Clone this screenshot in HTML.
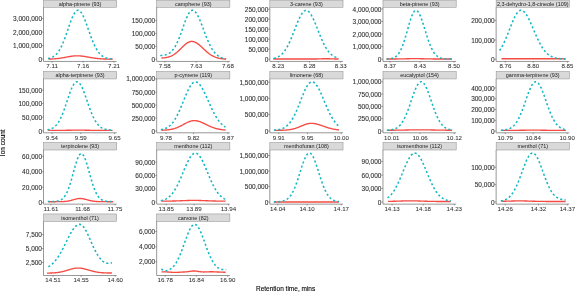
<!DOCTYPE html>
<html><head><meta charset="utf-8"><title>Ion count vs retention time</title>
<style>
html,body{margin:0;padding:0;background:#fff;}
svg{display:block;}
text{font-family:"Liberation Sans",Arial,sans-serif;}
.tk{font-size:6.15px;fill:#333;stroke:#333;stroke-width:0.06px;}
.ty{font-size:6.5px;fill:#303030;stroke:#303030;stroke-width:0.1px;}
.st{font-size:5.45px;fill:#1a1a1a;}
.ti{font-size:6.5px;fill:#000;stroke:#000;stroke-width:0.1px;}
</style></head><body>
<svg width="575" height="292" viewBox="0 0 575 292">
<rect width="575" height="292" fill="#fff"/>
<g>
<rect x="43.50" y="0.10" width="73.20" height="7.15" fill="#d9d9d9" stroke="#8a8a8a" stroke-width="0.5"/>
<text class="st" x="80.10" y="5.55" text-anchor="middle">alpha-pinene (93)</text>
<path d="M43.50,7.25 V61.45 H116.70" fill="none" stroke="#606060" stroke-width="0.65"/>
<path d="M42.00,18.60 H43.50 M42.00,32.10 H43.50 M42.00,45.60 H43.50 M42.00,59.10 H43.50 M52.10,61.45 v1.3 M83.10,61.45 v1.3 M114.00,61.45 v1.3 " fill="none" stroke="#555" stroke-width="0.55"/>
<text class="ty" x="42.00" y="21.20" text-anchor="end">3,000,000</text>
<text class="ty" x="42.00" y="34.70" text-anchor="end">2,000,000</text>
<text class="ty" x="42.00" y="48.20" text-anchor="end">1,000,000</text>
<text class="ty" x="42.00" y="61.70" text-anchor="end">0</text>
<text class="tk" x="52.10" y="68.15" text-anchor="middle">7.11</text>
<text class="tk" x="83.10" y="68.15" text-anchor="middle">7.16</text>
<text class="tk" x="114.00" y="68.15" text-anchor="middle">7.21</text>
<path d="M48.60,59.06 L49.13,59.05 L49.67,59.04 L50.20,59.02 L50.74,59.00 L51.27,58.98 L51.81,58.96 L52.34,58.94 L52.88,58.91 L53.41,58.88 L53.95,58.85 L54.48,58.82 L55.02,58.78 L55.55,58.74 L56.09,58.69 L56.62,58.64 L57.16,58.59 L57.70,58.53 L58.23,58.48 L58.77,58.41 L59.30,58.34 L59.84,58.27 L60.37,58.20 L60.91,58.12 L61.44,58.04 L61.98,57.95 L62.51,57.86 L63.05,57.77 L63.58,57.67 L64.11,57.57 L64.65,57.47 L65.19,57.37 L65.72,57.27 L66.25,57.17 L66.79,57.06 L67.33,56.96 L67.86,56.86 L68.39,56.76 L68.93,56.66 L69.47,56.56 L70.00,56.47 L70.53,56.38 L71.07,56.29 L71.60,56.21 L72.14,56.14 L72.67,56.07 L73.21,56.01 L73.75,55.96 L74.28,55.91 L74.81,55.87 L75.35,55.84 L75.88,55.82 L76.42,55.80 L76.95,55.80 L77.49,55.80 L78.03,55.81 L78.56,55.83 L79.09,55.86 L79.63,55.89 L80.16,55.93 L80.70,55.97 L81.23,56.02 L81.77,56.08 L82.31,56.14 L82.84,56.21 L83.38,56.29 L83.91,56.36 L84.44,56.44 L84.98,56.53 L85.51,56.62 L86.05,56.71 L86.58,56.80 L87.12,56.89 L87.66,56.99 L88.19,57.08 L88.72,57.18 L89.26,57.27 L89.79,57.37 L90.33,57.46 L90.86,57.55 L91.40,57.64 L91.94,57.73 L92.47,57.82 L93.00,57.90 L93.54,57.99 L94.07,58.07 L94.61,58.14 L95.14,58.22 L95.68,58.29 L96.22,58.35 L96.75,58.42 L97.28,58.48 L97.82,58.53 L98.35,58.59 L98.89,58.64 L99.42,58.69 L99.96,58.73 L100.49,58.77 L101.03,58.81 L101.56,58.85 L102.10,58.88 L102.63,58.91 L103.17,58.94 L103.70,58.97 L104.24,58.99 L104.77,59.01 L105.31,59.03 L105.84,59.05 L106.38,59.07 L106.91,59.08 L107.45,59.09 L107.98,59.11 L108.52,59.12 L109.05,59.13 L109.59,59.14 L110.12,59.14 L110.66,59.15 L111.19,59.16 L111.73,59.16 L112.26,59.17 L112.80,59.17" fill="none" stroke="#f64a43" stroke-width="1.35" stroke-linejoin="round"/>
<path d="M48.00,58.51 L48.54,58.41 L49.08,58.29 L49.62,58.16 L50.15,58.01 L50.69,57.84 L51.23,57.65 L51.77,57.43 L52.31,57.18 L52.84,56.91 L53.38,56.60 L53.92,56.26 L54.46,55.88 L55.00,55.45 L55.54,54.99 L56.08,54.48 L56.61,53.92 L57.15,53.31 L57.69,52.64 L58.23,51.92 L58.77,51.14 L59.30,50.31 L59.84,49.41 L60.38,48.45 L60.92,47.42 L61.46,46.34 L62.00,45.20 L62.53,43.99 L63.07,42.73 L63.61,41.41 L64.15,40.04 L64.69,38.63 L65.23,37.17 L65.77,35.67 L66.30,34.15 L66.84,32.59 L67.38,31.03 L67.92,29.45 L68.46,27.87 L69.00,26.31 L69.53,24.76 L70.07,23.24 L70.61,21.76 L71.15,20.33 L71.69,18.96 L72.22,17.66 L72.76,16.44 L73.30,15.30 L73.84,14.27 L74.38,13.34 L74.92,12.52 L75.45,11.82 L75.99,11.25 L76.53,10.81 L77.07,10.51 L77.61,10.34 L78.15,10.30 L78.69,10.41 L79.22,10.64 L79.76,11.00 L80.30,11.48 L80.84,12.09 L81.38,12.81 L81.91,13.64 L82.45,14.58 L82.99,15.62 L83.53,16.74 L84.07,17.95 L84.61,19.23 L85.14,20.57 L85.68,21.97 L86.22,23.41 L86.76,24.89 L87.30,26.39 L87.84,27.92 L88.38,29.45 L88.91,30.98 L89.45,32.50 L89.99,34.01 L90.53,35.50 L91.07,36.96 L91.60,38.38 L92.14,39.77 L92.68,41.11 L93.22,42.40 L93.76,43.64 L94.30,44.83 L94.84,45.97 L95.37,47.04 L95.91,48.06 L96.45,49.02 L96.99,49.92 L97.53,50.76 L98.06,51.55 L98.60,52.28 L99.14,52.96 L99.68,53.58 L100.22,54.16 L100.76,54.68 L101.29,55.17 L101.83,55.61 L102.37,56.01 L102.91,56.37 L103.45,56.70 L103.99,56.99 L104.52,57.26 L105.06,57.49 L105.60,57.70 L106.14,57.89 L106.68,58.06 L107.22,58.20 L107.75,58.33 L108.29,58.44 L108.83,58.54 L109.37,58.63 L109.91,58.71 L110.45,58.77 L110.98,58.83 L111.52,58.88 L112.06,58.92 L112.60,58.96" fill="none" stroke="#12b7c2" stroke-width="1.55" stroke-dasharray="2.1 2.35" stroke-linejoin="round"/>
</g>
<g>
<rect x="156.66" y="0.10" width="73.20" height="7.15" fill="#d9d9d9" stroke="#8a8a8a" stroke-width="0.5"/>
<text class="st" x="193.26" y="5.55" text-anchor="middle">camphene (93)</text>
<path d="M156.66,7.25 V61.45 H229.86" fill="none" stroke="#606060" stroke-width="0.65"/>
<path d="M155.16,20.40 H156.66 M155.16,33.40 H156.66 M155.16,46.40 H156.66 M155.16,59.30 H156.66 M164.80,61.45 v1.3 M196.20,61.45 v1.3 M227.90,61.45 v1.3 " fill="none" stroke="#555" stroke-width="0.55"/>
<text class="ty" x="155.16" y="23.00" text-anchor="end">150,000</text>
<text class="ty" x="155.16" y="36.00" text-anchor="end">100,000</text>
<text class="ty" x="155.16" y="49.00" text-anchor="end">50,000</text>
<text class="ty" x="155.16" y="61.90" text-anchor="end">0</text>
<text class="tk" x="164.80" y="68.15" text-anchor="middle">7.58</text>
<text class="tk" x="196.20" y="68.15" text-anchor="middle">7.63</text>
<text class="tk" x="227.90" y="68.15" text-anchor="middle">7.68</text>
<path d="M161.40,58.06 L161.94,58.03 L162.48,57.99 L163.02,57.95 L163.56,57.90 L164.10,57.84 L164.63,57.78 L165.17,57.70 L165.71,57.62 L166.25,57.52 L166.79,57.42 L167.33,57.30 L167.87,57.17 L168.41,57.02 L168.95,56.86 L169.49,56.69 L170.03,56.49 L170.57,56.28 L171.11,56.05 L171.64,55.80 L172.18,55.53 L172.72,55.25 L173.26,54.94 L173.80,54.61 L174.34,54.26 L174.88,53.88 L175.42,53.49 L175.96,53.08 L176.50,52.65 L177.04,52.20 L177.57,51.73 L178.11,51.25 L178.65,50.75 L179.19,50.24 L179.73,49.72 L180.27,49.20 L180.81,48.66 L181.35,48.12 L181.89,47.59 L182.43,47.05 L182.97,46.52 L183.51,46.00 L184.05,45.50 L184.58,45.00 L185.12,44.53 L185.66,44.08 L186.20,43.66 L186.74,43.26 L187.28,42.90 L187.82,42.57 L188.36,42.27 L188.90,42.02 L189.44,41.81 L189.98,41.64 L190.51,41.51 L191.05,41.43 L191.59,41.40 L192.13,41.41 L192.67,41.47 L193.21,41.56 L193.75,41.69 L194.29,41.85 L194.83,42.06 L195.37,42.30 L195.91,42.57 L196.45,42.88 L196.99,43.22 L197.52,43.58 L198.06,43.97 L198.60,44.38 L199.14,44.82 L199.68,45.27 L200.22,45.74 L200.76,46.22 L201.30,46.72 L201.84,47.22 L202.38,47.72 L202.92,48.23 L203.45,48.75 L203.99,49.25 L204.53,49.76 L205.07,50.26 L205.61,50.75 L206.15,51.24 L206.69,51.71 L207.23,52.17 L207.77,52.62 L208.31,53.05 L208.85,53.47 L209.39,53.87 L209.93,54.25 L210.46,54.62 L211.00,54.97 L211.54,55.30 L212.08,55.61 L212.62,55.91 L213.16,56.19 L213.70,56.45 L214.24,56.70 L214.78,56.93 L215.32,57.14 L215.86,57.34 L216.39,57.52 L216.93,57.69 L217.47,57.85 L218.01,58.00 L218.55,58.13 L219.09,58.25 L219.63,58.36 L220.17,58.47 L220.71,58.56 L221.25,58.64 L221.79,58.72 L222.33,58.79 L222.87,58.85 L223.40,58.91 L223.94,58.96 L224.48,59.01 L225.02,59.05 L225.56,59.09 L226.10,59.13" fill="none" stroke="#f64a43" stroke-width="1.35" stroke-linejoin="round"/>
<path d="M160.30,55.47 L160.85,55.45 L161.40,55.43 L161.95,55.40 L162.49,55.36 L163.04,55.30 L163.59,55.24 L164.14,55.15 L164.69,55.05 L165.24,54.94 L165.78,54.80 L166.33,54.63 L166.88,54.45 L167.43,54.23 L167.98,53.98 L168.53,53.70 L169.07,53.38 L169.62,53.02 L170.17,52.62 L170.72,52.17 L171.27,51.67 L171.81,51.12 L172.36,50.52 L172.91,49.86 L173.46,49.14 L174.01,48.36 L174.56,47.52 L175.11,46.61 L175.65,45.64 L176.20,44.61 L176.75,43.51 L177.30,42.34 L177.85,41.12 L178.40,39.84 L178.94,38.51 L179.49,37.12 L180.04,35.69 L180.59,34.22 L181.14,32.71 L181.69,31.18 L182.23,29.64 L182.78,28.09 L183.33,26.53 L183.88,24.99 L184.43,23.47 L184.97,21.99 L185.52,20.55 L186.07,19.16 L186.62,17.84 L187.17,16.59 L187.72,15.44 L188.27,14.37 L188.81,13.42 L189.36,12.58 L189.91,11.86 L190.46,11.27 L191.01,10.82 L191.56,10.50 L192.10,10.33 L192.65,10.30 L193.20,10.40 L193.75,10.62 L194.30,10.96 L194.84,11.41 L195.39,11.98 L195.94,12.65 L196.49,13.42 L197.04,14.30 L197.59,15.26 L198.13,16.31 L198.68,17.44 L199.23,18.63 L199.78,19.89 L200.33,21.21 L200.88,22.57 L201.43,23.96 L201.97,25.39 L202.52,26.84 L203.07,28.30 L203.62,29.77 L204.17,31.24 L204.72,32.70 L205.26,34.14 L205.81,35.56 L206.36,36.96 L206.91,38.32 L207.46,39.65 L208.00,40.94 L208.55,42.18 L209.10,43.37 L209.65,44.52 L210.20,45.62 L210.75,46.66 L211.30,47.65 L211.84,48.59 L212.39,49.48 L212.94,50.31 L213.49,51.09 L214.04,51.82 L214.58,52.50 L215.13,53.13 L215.68,53.72 L216.23,54.26 L216.78,54.76 L217.33,55.22 L217.88,55.64 L218.42,56.03 L218.97,56.38 L219.52,56.71 L220.07,57.00 L220.62,57.27 L221.16,57.51 L221.71,57.73 L222.26,57.93 L222.81,58.11 L223.36,58.27 L223.91,58.42 L224.45,58.55 L225.00,58.67 L225.55,58.78 L226.10,58.88" fill="none" stroke="#12b7c2" stroke-width="1.55" stroke-dasharray="2.1 2.35" stroke-linejoin="round"/>
</g>
<g>
<rect x="269.82" y="0.10" width="73.20" height="7.15" fill="#d9d9d9" stroke="#8a8a8a" stroke-width="0.5"/>
<text class="st" x="306.42" y="5.55" text-anchor="middle">3-carene (93)</text>
<path d="M269.82,7.25 V61.45 H343.02" fill="none" stroke="#606060" stroke-width="0.65"/>
<path d="M268.32,9.20 H269.82 M268.32,19.20 H269.82 M268.32,29.20 H269.82 M268.32,39.20 H269.82 M268.32,49.20 H269.82 M268.32,59.20 H269.82 M278.30,61.45 v1.3 M309.50,61.45 v1.3 M340.70,61.45 v1.3 " fill="none" stroke="#555" stroke-width="0.55"/>
<text class="ty" x="268.32" y="11.80" text-anchor="end">250,000</text>
<text class="ty" x="268.32" y="21.80" text-anchor="end">200,000</text>
<text class="ty" x="268.32" y="31.80" text-anchor="end">150,000</text>
<text class="ty" x="268.32" y="41.80" text-anchor="end">100,000</text>
<text class="ty" x="268.32" y="51.80" text-anchor="end">50,000</text>
<text class="ty" x="268.32" y="61.80" text-anchor="end">0</text>
<text class="tk" x="278.30" y="68.15" text-anchor="middle">8.23</text>
<text class="tk" x="309.50" y="68.15" text-anchor="middle">8.28</text>
<text class="tk" x="340.70" y="68.15" text-anchor="middle">8.33</text>
<path d="M273.20,59.00 L273.75,59.00 L274.29,59.00 L274.83,59.00 L275.38,59.00 L275.93,59.00 L276.47,59.00 L277.01,59.00 L277.56,59.00 L278.11,59.00 L278.65,59.00 L279.19,59.00 L279.74,59.01 L280.28,59.01 L280.83,59.01 L281.38,59.01 L281.92,59.01 L282.46,59.01 L283.01,59.01 L283.56,59.01 L284.10,59.01 L284.64,59.01 L285.19,59.01 L285.74,59.01 L286.28,59.01 L286.82,59.01 L287.37,59.01 L287.92,59.01 L288.46,59.01 L289.00,59.01 L289.55,59.01 L290.09,59.01 L290.64,59.01 L291.19,59.01 L291.73,59.01 L292.27,59.01 L292.82,59.01 L293.37,59.02 L293.91,59.02 L294.45,59.02 L295.00,59.02 L295.55,59.02 L296.09,59.02 L296.63,59.02 L297.18,59.02 L297.73,59.02 L298.27,59.02 L298.81,59.02 L299.36,59.02 L299.91,59.02 L300.45,59.02 L301.00,59.02 L301.54,59.02 L302.08,59.02 L302.63,59.02 L303.18,59.02 L303.72,59.02 L304.26,59.02 L304.81,59.02 L305.36,59.02 L305.90,59.02 L306.44,59.03 L306.99,59.03 L307.54,59.03 L308.08,59.03 L308.62,59.03 L309.17,59.03 L309.72,59.03 L310.26,59.03 L310.81,59.03 L311.35,59.02 L311.89,59.02 L312.44,59.02 L312.99,59.02 L313.53,59.02 L314.07,59.01 L314.62,59.01 L315.17,59.00 L315.71,58.99 L316.25,58.98 L316.80,58.97 L317.35,58.96 L317.89,58.94 L318.44,58.93 L318.98,58.91 L319.53,58.89 L320.07,58.87 L320.62,58.85 L321.16,58.82 L321.71,58.80 L322.25,58.78 L322.80,58.76 L323.34,58.74 L323.88,58.73 L324.43,58.72 L324.98,58.71 L325.52,58.70 L326.06,58.70 L326.61,58.70 L327.16,58.71 L327.70,58.72 L328.25,58.73 L328.79,58.75 L329.34,58.77 L329.88,58.79 L330.43,58.81 L330.97,58.84 L331.52,58.86 L332.06,58.88 L332.61,58.90 L333.15,58.92 L333.70,58.94 L334.24,58.96 L334.79,58.97 L335.33,58.99 L335.88,59.00 L336.42,59.01 L336.97,59.02 L337.51,59.03 L338.06,59.03 L338.60,59.04" fill="none" stroke="#f64a43" stroke-width="1.35" stroke-linejoin="round"/>
<path d="M273.80,58.32 L274.34,58.19 L274.88,58.05 L275.42,57.89 L275.96,57.72 L276.50,57.52 L277.04,57.30 L277.58,57.06 L278.12,56.80 L278.66,56.50 L279.20,56.18 L279.74,55.83 L280.28,55.44 L280.82,55.02 L281.36,54.56 L281.90,54.07 L282.44,53.53 L282.98,52.95 L283.52,52.33 L284.06,51.66 L284.60,50.95 L285.14,50.19 L285.68,49.38 L286.22,48.52 L286.76,47.62 L287.30,46.66 L287.84,45.66 L288.38,44.61 L288.92,43.52 L289.46,42.38 L290.00,41.19 L290.54,39.97 L291.08,38.71 L291.62,37.41 L292.16,36.09 L292.70,34.74 L293.24,33.37 L293.78,31.98 L294.32,30.59 L294.86,29.18 L295.40,27.78 L295.94,26.39 L296.48,25.02 L297.02,23.66 L297.56,22.34 L298.10,21.05 L298.64,19.81 L299.18,18.61 L299.72,17.48 L300.26,16.40 L300.80,15.40 L301.34,14.48 L301.88,13.63 L302.42,12.88 L302.96,12.22 L303.50,11.66 L304.04,11.19 L304.58,10.83 L305.12,10.58 L305.66,10.44 L306.20,10.40 L306.74,10.47 L307.28,10.65 L307.82,10.93 L308.36,11.31 L308.90,11.80 L309.44,12.37 L309.98,13.05 L310.52,13.81 L311.06,14.65 L311.60,15.57 L312.14,16.57 L312.68,17.63 L313.22,18.76 L313.76,19.94 L314.30,21.17 L314.84,22.43 L315.38,23.74 L315.92,25.07 L316.46,26.42 L317.00,27.78 L317.54,29.16 L318.08,30.53 L318.62,31.90 L319.16,33.26 L319.70,34.61 L320.24,35.94 L320.78,37.24 L321.32,38.51 L321.86,39.75 L322.40,40.96 L322.94,42.13 L323.48,43.26 L324.02,44.34 L324.56,45.38 L325.10,46.37 L325.64,47.32 L326.18,48.22 L326.72,49.08 L327.26,49.88 L327.80,50.64 L328.34,51.36 L328.88,52.03 L329.42,52.65 L329.96,53.23 L330.50,53.78 L331.04,54.28 L331.58,54.74 L332.12,55.17 L332.66,55.56 L333.20,55.93 L333.74,56.26 L334.28,56.56 L334.82,56.83 L335.36,57.08 L335.90,57.31 L336.44,57.51 L336.98,57.69 L337.52,57.86 L338.06,58.01 L338.60,58.14" fill="none" stroke="#12b7c2" stroke-width="1.55" stroke-dasharray="2.1 2.35" stroke-linejoin="round"/>
</g>
<g>
<rect x="382.98" y="0.10" width="73.20" height="7.15" fill="#d9d9d9" stroke="#8a8a8a" stroke-width="0.5"/>
<text class="st" x="419.58" y="5.55" text-anchor="middle">beta-pinene (93)</text>
<path d="M382.98,7.25 V61.45 H456.18" fill="none" stroke="#606060" stroke-width="0.65"/>
<path d="M381.48,8.90 H382.98 M381.48,21.50 H382.98 M381.48,34.00 H382.98 M381.48,46.60 H382.98 M381.48,59.20 H382.98 M390.00,61.45 v1.3 M420.00,61.45 v1.3 M454.00,61.45 v1.3 " fill="none" stroke="#555" stroke-width="0.55"/>
<text class="ty" x="381.48" y="11.50" text-anchor="end">4,000,000</text>
<text class="ty" x="381.48" y="24.10" text-anchor="end">3,000,000</text>
<text class="ty" x="381.48" y="36.60" text-anchor="end">2,000,000</text>
<text class="ty" x="381.48" y="49.20" text-anchor="end">1,000,000</text>
<text class="ty" x="381.48" y="61.80" text-anchor="end">0</text>
<text class="tk" x="390.00" y="68.15" text-anchor="middle">8.37</text>
<text class="tk" x="420.00" y="68.15" text-anchor="middle">8.43</text>
<text class="tk" x="454.00" y="68.15" text-anchor="middle">8.50</text>
<path d="M386.40,59.00 L386.95,59.00 L387.49,59.00 L388.04,59.00 L388.59,59.00 L389.13,58.99 L389.68,58.99 L390.23,58.99 L390.77,58.99 L391.32,58.99 L391.87,58.99 L392.41,58.98 L392.96,58.98 L393.51,58.98 L394.05,58.98 L394.60,58.97 L395.15,58.97 L395.69,58.96 L396.24,58.96 L396.79,58.95 L397.33,58.95 L397.88,58.94 L398.43,58.94 L398.97,58.93 L399.52,58.92 L400.07,58.91 L400.61,58.90 L401.16,58.89 L401.71,58.88 L402.25,58.87 L402.80,58.86 L403.35,58.85 L403.89,58.84 L404.44,58.82 L404.99,58.81 L405.53,58.80 L406.08,58.79 L406.63,58.77 L407.17,58.76 L407.72,58.75 L408.27,58.74 L408.81,58.72 L409.36,58.71 L409.91,58.70 L410.45,58.69 L411.00,58.68 L411.55,58.67 L412.09,58.67 L412.64,58.66 L413.19,58.66 L413.73,58.65 L414.28,58.65 L414.83,58.65 L415.37,58.65 L415.92,58.65 L416.47,58.65 L417.01,58.66 L417.56,58.66 L418.11,58.67 L418.65,58.68 L419.20,58.69 L419.75,58.70 L420.29,58.71 L420.84,58.72 L421.39,58.73 L421.93,58.74 L422.48,58.75 L423.03,58.76 L423.57,58.78 L424.12,58.79 L424.67,58.80 L425.21,58.82 L425.76,58.83 L426.31,58.84 L426.85,58.85 L427.40,58.86 L427.95,58.88 L428.49,58.89 L429.04,58.90 L429.59,58.91 L430.13,58.91 L430.68,58.92 L431.23,58.93 L431.77,58.94 L432.32,58.95 L432.87,58.95 L433.41,58.96 L433.96,58.96 L434.51,58.97 L435.05,58.97 L435.60,58.97 L436.15,58.98 L436.69,58.98 L437.24,58.98 L437.79,58.99 L438.33,58.99 L438.88,58.99 L439.43,58.99 L439.97,58.99 L440.52,58.99 L441.07,58.99 L441.61,59.00 L442.16,59.00 L442.71,59.00 L443.25,59.00 L443.80,59.00 L444.35,59.00 L444.89,59.00 L445.44,59.00 L445.99,59.00 L446.53,59.00 L447.08,59.00 L447.63,59.00 L448.17,59.00 L448.72,59.00 L449.27,59.00 L449.81,59.00 L450.36,59.00 L450.91,59.00 L451.45,59.00 L452.00,59.00" fill="none" stroke="#f64a43" stroke-width="1.35" stroke-linejoin="round"/>
<path d="M386.60,59.05 L387.15,59.03 L387.69,59.00 L388.24,58.96 L388.78,58.91 L389.33,58.86 L389.87,58.79 L390.42,58.71 L390.96,58.61 L391.50,58.50 L392.05,58.36 L392.60,58.20 L393.14,58.01 L393.69,57.79 L394.23,57.53 L394.78,57.23 L395.32,56.89 L395.87,56.50 L396.41,56.05 L396.96,55.54 L397.50,54.97 L398.05,54.32 L398.59,53.60 L399.13,52.80 L399.68,51.92 L400.23,50.95 L400.77,49.89 L401.31,48.73 L401.86,47.49 L402.41,46.14 L402.95,44.71 L403.50,43.19 L404.04,41.58 L404.59,39.90 L405.13,38.14 L405.68,36.32 L406.22,34.45 L406.77,32.54 L407.31,30.61 L407.86,28.67 L408.40,26.74 L408.94,24.83 L409.49,22.97 L410.04,21.17 L410.58,19.45 L411.12,17.84 L411.67,16.34 L412.22,14.98 L412.76,13.77 L413.31,12.73 L413.85,11.87 L414.40,11.20 L414.94,10.73 L415.49,10.46 L416.03,10.40 L416.57,10.54 L417.12,10.84 L417.67,11.33 L418.21,11.98 L418.75,12.79 L419.30,13.75 L419.85,14.86 L420.39,16.10 L420.94,17.45 L421.48,18.92 L422.02,20.47 L422.57,22.10 L423.12,23.79 L423.66,25.52 L424.21,27.29 L424.75,29.07 L425.30,30.86 L425.84,32.64 L426.38,34.40 L426.93,36.12 L427.48,37.81 L428.02,39.44 L428.56,41.01 L429.11,42.52 L429.66,43.96 L430.20,45.33 L430.75,46.61 L431.29,47.82 L431.84,48.95 L432.38,50.00 L432.93,50.97 L433.47,51.87 L434.01,52.69 L434.56,53.43 L435.11,54.11 L435.65,54.73 L436.19,55.28 L436.74,55.77 L437.29,56.22 L437.83,56.61 L438.38,56.95 L438.92,57.26 L439.47,57.53 L440.01,57.76 L440.56,57.97 L441.10,58.14 L441.64,58.29 L442.19,58.42 L442.74,58.54 L443.28,58.63 L443.82,58.71 L444.37,58.78 L444.92,58.84 L445.46,58.88 L446.00,58.92 L446.55,58.96 L447.10,58.98 L447.64,59.01 L448.19,59.02 L448.73,59.04 L449.27,59.05 L449.82,59.06 L450.37,59.07 L450.91,59.08 L451.45,59.08 L452.00,59.08" fill="none" stroke="#12b7c2" stroke-width="1.55" stroke-dasharray="2.1 2.35" stroke-linejoin="round"/>
</g>
<g>
<rect x="496.14" y="0.10" width="73.20" height="7.15" fill="#d9d9d9" stroke="#8a8a8a" stroke-width="0.5"/>
<text class="st" x="532.74" y="5.55" text-anchor="middle">2,3-dehydro-1,8-cineole (109)</text>
<path d="M496.14,7.25 V61.45 H569.34" fill="none" stroke="#606060" stroke-width="0.65"/>
<path d="M494.64,20.40 H496.14 M494.64,40.00 H496.14 M494.64,59.20 H496.14 M505.40,61.45 v1.3 M533.20,61.45 v1.3 M567.40,61.45 v1.3 " fill="none" stroke="#555" stroke-width="0.55"/>
<text class="ty" x="494.64" y="23.00" text-anchor="end">200,000</text>
<text class="ty" x="494.64" y="42.60" text-anchor="end">100,000</text>
<text class="ty" x="494.64" y="61.80" text-anchor="end">0</text>
<text class="tk" x="505.40" y="68.15" text-anchor="middle">8.76</text>
<text class="tk" x="533.20" y="68.15" text-anchor="middle">8.80</text>
<text class="tk" x="567.40" y="68.15" text-anchor="middle">8.85</text>
<path d="M501.50,58.70 L502.03,58.70 L502.57,58.70 L503.10,58.70 L503.64,58.70 L504.17,58.70 L504.70,58.70 L505.24,58.70 L505.77,58.70 L506.31,58.70 L506.84,58.70 L507.38,58.70 L507.91,58.70 L508.44,58.70 L508.98,58.70 L509.51,58.70 L510.05,58.70 L510.58,58.70 L511.12,58.70 L511.65,58.70 L512.18,58.70 L512.72,58.70 L513.25,58.70 L513.79,58.70 L514.32,58.70 L514.85,58.70 L515.39,58.70 L515.92,58.70 L516.46,58.70 L516.99,58.70 L517.52,58.70 L518.06,58.70 L518.59,58.70 L519.13,58.70 L519.66,58.70 L520.20,58.70 L520.73,58.70 L521.26,58.70 L521.80,58.70 L522.33,58.70 L522.87,58.70 L523.40,58.70 L523.94,58.71 L524.47,58.71 L525.00,58.71 L525.54,58.71 L526.07,58.71 L526.61,58.71 L527.14,58.72 L527.67,58.72 L528.21,58.72 L528.74,58.72 L529.28,58.72 L529.81,58.73 L530.35,58.73 L530.88,58.73 L531.41,58.73 L531.95,58.73 L532.48,58.73 L533.02,58.74 L533.55,58.74 L534.08,58.74 L534.62,58.74 L535.15,58.74 L535.69,58.75 L536.22,58.75 L536.75,58.75 L537.29,58.75 L537.82,58.75 L538.36,58.75 L538.89,58.75 L539.43,58.76 L539.96,58.76 L540.49,58.76 L541.03,58.76 L541.56,58.76 L542.10,58.76 L542.63,58.76 L543.16,58.76 L543.70,58.76 L544.23,58.77 L544.77,58.77 L545.30,58.77 L545.84,58.77 L546.37,58.77 L546.90,58.77 L547.44,58.77 L547.97,58.77 L548.51,58.77 L549.04,58.77 L549.58,58.77 L550.11,58.78 L550.64,58.78 L551.18,58.78 L551.71,58.78 L552.25,58.78 L552.78,58.78 L553.31,58.78 L553.85,58.78 L554.38,58.78 L554.92,58.78 L555.45,58.78 L555.99,58.78 L556.52,58.79 L557.05,58.79 L557.59,58.79 L558.12,58.79 L558.66,58.79 L559.19,58.79 L559.72,58.79 L560.26,58.79 L560.79,58.79 L561.33,58.79 L561.86,58.79 L562.39,58.79 L562.93,58.80 L563.46,58.80 L564.00,58.80 L564.53,58.80 L565.07,58.80 L565.60,58.80" fill="none" stroke="#f64a43" stroke-width="1.35" stroke-linejoin="round"/>
<path d="M499.50,50.52 L500.05,49.73 L500.61,48.89 L501.16,48.00 L501.72,47.06 L502.27,46.07 L502.82,45.03 L503.38,43.94 L503.93,42.81 L504.49,41.63 L505.04,40.41 L505.60,39.14 L506.15,37.84 L506.70,36.51 L507.26,35.15 L507.81,33.77 L508.37,32.36 L508.92,30.95 L509.48,29.53 L510.03,28.10 L510.58,26.69 L511.14,25.29 L511.69,23.90 L512.25,22.55 L512.80,21.23 L513.35,19.96 L513.91,18.73 L514.46,17.57 L515.02,16.46 L515.57,15.44 L516.12,14.48 L516.68,13.62 L517.23,12.84 L517.79,12.16 L518.34,11.58 L518.90,11.11 L519.45,10.74 L520.00,10.48 L520.56,10.34 L521.11,10.30 L521.67,10.37 L522.22,10.53 L522.77,10.79 L523.33,11.14 L523.88,11.58 L524.44,12.11 L524.99,12.72 L525.55,13.42 L526.10,14.19 L526.65,15.04 L527.21,15.95 L527.76,16.93 L528.32,17.97 L528.87,19.06 L529.42,20.20 L529.98,21.37 L530.53,22.59 L531.09,23.83 L531.64,25.10 L532.20,26.39 L532.75,27.69 L533.30,29.00 L533.86,30.31 L534.41,31.61 L534.97,32.91 L535.52,34.20 L536.08,35.47 L536.63,36.71 L537.18,37.94 L537.74,39.13 L538.29,40.29 L538.85,41.42 L539.40,42.52 L539.95,43.57 L540.51,44.59 L541.06,45.57 L541.62,46.50 L542.17,47.40 L542.73,48.25 L543.28,49.05 L543.83,49.82 L544.39,50.54 L544.94,51.22 L545.50,51.86 L546.05,52.46 L546.60,53.02 L547.16,53.55 L547.71,54.04 L548.27,54.49 L548.82,54.91 L549.38,55.30 L549.93,55.65 L550.48,55.98 L551.04,56.29 L551.59,56.56 L552.15,56.82 L552.70,57.05 L553.25,57.26 L553.81,57.45 L554.36,57.62 L554.92,57.77 L555.47,57.91 L556.02,58.04 L556.58,58.15 L557.13,58.25 L557.69,58.34 L558.24,58.42 L558.80,58.50 L559.35,58.56 L559.90,58.62 L560.46,58.67 L561.01,58.71 L561.57,58.75 L562.12,58.78 L562.67,58.81 L563.23,58.84 L563.78,58.86 L564.34,58.88 L564.89,58.90 L565.45,58.91 L566.00,58.93" fill="none" stroke="#12b7c2" stroke-width="1.55" stroke-dasharray="2.1 2.35" stroke-linejoin="round"/>
</g>
<g>
<rect x="43.50" y="71.50" width="73.20" height="7.45" fill="#d9d9d9" stroke="#8a8a8a" stroke-width="0.5"/>
<text class="st" x="80.10" y="77.25" text-anchor="middle">alpha-terpinene (93)</text>
<path d="M43.50,78.95 V132.80 H116.70" fill="none" stroke="#606060" stroke-width="0.65"/>
<path d="M42.00,90.15 H43.50 M42.00,103.55 H43.50 M42.00,117.30 H43.50 M42.00,131.05 H43.50 M52.00,132.80 v1.3 M80.80,132.80 v1.3 M114.60,132.80 v1.3 " fill="none" stroke="#555" stroke-width="0.55"/>
<text class="ty" x="42.00" y="92.75" text-anchor="end">150,000</text>
<text class="ty" x="42.00" y="106.15" text-anchor="end">100,000</text>
<text class="ty" x="42.00" y="119.90" text-anchor="end">50,000</text>
<text class="ty" x="42.00" y="133.65" text-anchor="end">0</text>
<text class="tk" x="52.00" y="139.50" text-anchor="middle">9.54</text>
<text class="tk" x="80.80" y="139.50" text-anchor="middle">9.59</text>
<text class="tk" x="114.60" y="139.50" text-anchor="middle">9.65</text>
<path d="M48.20,130.40 L48.74,130.40 L49.27,130.40 L49.81,130.40 L50.35,130.40 L50.88,130.40 L51.42,130.40 L51.96,130.40 L52.49,130.40 L53.03,130.39 L53.57,130.39 L54.10,130.39 L54.64,130.39 L55.18,130.39 L55.71,130.39 L56.25,130.39 L56.79,130.38 L57.32,130.38 L57.86,130.38 L58.40,130.38 L58.93,130.37 L59.47,130.37 L60.01,130.37 L60.54,130.36 L61.08,130.36 L61.62,130.35 L62.15,130.35 L62.69,130.34 L63.23,130.34 L63.76,130.33 L64.30,130.32 L64.84,130.31 L65.37,130.31 L65.91,130.30 L66.45,130.29 L66.98,130.28 L67.52,130.27 L68.06,130.26 L68.59,130.26 L69.13,130.25 L69.67,130.24 L70.20,130.23 L70.74,130.22 L71.28,130.21 L71.81,130.20 L72.35,130.19 L72.89,130.19 L73.42,130.18 L73.96,130.17 L74.50,130.17 L75.03,130.16 L75.57,130.16 L76.11,130.16 L76.64,130.15 L77.18,130.15 L77.72,130.15 L78.25,130.15 L78.79,130.15 L79.33,130.15 L79.86,130.16 L80.40,130.16 L80.94,130.16 L81.47,130.17 L82.01,130.17 L82.55,130.18 L83.08,130.19 L83.62,130.19 L84.16,130.20 L84.69,130.21 L85.23,130.22 L85.77,130.23 L86.30,130.24 L86.84,130.25 L87.38,130.25 L87.91,130.26 L88.45,130.27 L88.99,130.28 L89.52,130.29 L90.06,130.30 L90.60,130.31 L91.13,130.31 L91.67,130.32 L92.21,130.33 L92.74,130.33 L93.28,130.34 L93.82,130.35 L94.35,130.35 L94.89,130.36 L95.43,130.36 L95.96,130.37 L96.50,130.37 L97.04,130.37 L97.57,130.38 L98.11,130.38 L98.65,130.38 L99.18,130.38 L99.72,130.39 L100.26,130.39 L100.79,130.39 L101.33,130.39 L101.87,130.39 L102.40,130.39 L102.94,130.39 L103.48,130.40 L104.01,130.40 L104.55,130.40 L105.09,130.40 L105.62,130.40 L106.16,130.40 L106.70,130.40 L107.23,130.40 L107.77,130.40 L108.31,130.40 L108.84,130.40 L109.38,130.40 L109.92,130.40 L110.45,130.40 L110.99,130.40 L111.53,130.40 L112.06,130.40 L112.60,130.40" fill="none" stroke="#f64a43" stroke-width="1.35" stroke-linejoin="round"/>
<path d="M47.40,129.74 L47.94,129.65 L48.49,129.55 L49.03,129.42 L49.57,129.28 L50.12,129.12 L50.66,128.94 L51.20,128.73 L51.75,128.50 L52.29,128.23 L52.83,127.93 L53.38,127.60 L53.92,127.22 L54.46,126.80 L55.01,126.34 L55.55,125.83 L56.09,125.27 L56.64,124.65 L57.18,123.98 L57.72,123.24 L58.27,122.45 L58.81,121.59 L59.35,120.66 L59.90,119.67 L60.44,118.62 L60.98,117.49 L61.53,116.31 L62.07,115.05 L62.61,113.74 L63.16,112.37 L63.70,110.94 L64.24,109.46 L64.79,107.94 L65.33,106.38 L65.87,104.79 L66.42,103.18 L66.96,101.55 L67.50,99.92 L68.05,98.30 L68.59,96.69 L69.13,95.11 L69.68,93.57 L70.22,92.07 L70.76,90.64 L71.31,89.28 L71.85,88.01 L72.39,86.82 L72.94,85.74 L73.48,84.78 L74.02,83.94 L74.57,83.22 L75.11,82.64 L75.65,82.21 L76.20,81.91 L76.74,81.77 L77.28,81.77 L77.83,81.91 L78.37,82.19 L78.91,82.61 L79.46,83.16 L80.00,83.84 L80.54,84.64 L81.09,85.56 L81.63,86.59 L82.17,87.71 L82.72,88.93 L83.26,90.23 L83.80,91.59 L84.35,93.02 L84.89,94.50 L85.43,96.02 L85.98,97.58 L86.52,99.15 L87.06,100.73 L87.61,102.31 L88.15,103.88 L88.69,105.44 L89.24,106.97 L89.78,108.47 L90.32,109.93 L90.87,111.35 L91.41,112.72 L91.95,114.04 L92.50,115.30 L93.04,116.51 L93.58,117.65 L94.13,118.73 L94.67,119.75 L95.21,120.71 L95.76,121.60 L96.30,122.44 L96.84,123.21 L97.39,123.93 L97.93,124.58 L98.47,125.19 L99.02,125.74 L99.56,126.25 L100.10,126.71 L100.65,127.12 L101.19,127.49 L101.73,127.83 L102.28,128.13 L102.82,128.40 L103.36,128.64 L103.91,128.85 L104.45,129.04 L104.99,129.21 L105.54,129.35 L106.08,129.48 L106.62,129.59 L107.17,129.69 L107.71,129.77 L108.25,129.85 L108.80,129.91 L109.34,129.96 L109.88,130.01 L110.43,130.05 L110.97,130.08 L111.51,130.11 L112.06,130.13 L112.60,130.15" fill="none" stroke="#12b7c2" stroke-width="1.55" stroke-dasharray="2.1 2.35" stroke-linejoin="round"/>
</g>
<g>
<rect x="156.66" y="71.50" width="73.20" height="7.45" fill="#d9d9d9" stroke="#8a8a8a" stroke-width="0.5"/>
<text class="st" x="193.26" y="77.25" text-anchor="middle">p-cymene (119)</text>
<path d="M156.66,78.95 V132.80 H229.86" fill="none" stroke="#606060" stroke-width="0.65"/>
<path d="M155.16,78.85 H156.66 M155.16,92.25 H156.66 M155.16,105.15 H156.66 M155.16,118.05 H156.66 M155.16,131.05 H156.66 M166.00,132.80 v1.3 M193.50,132.80 v1.3 M227.90,132.80 v1.3 " fill="none" stroke="#555" stroke-width="0.55"/>
<text class="ty" x="155.16" y="81.45" text-anchor="end">1,000,000</text>
<text class="ty" x="155.16" y="94.85" text-anchor="end">750,000</text>
<text class="ty" x="155.16" y="107.75" text-anchor="end">500,000</text>
<text class="ty" x="155.16" y="120.65" text-anchor="end">250,000</text>
<text class="ty" x="155.16" y="133.65" text-anchor="end">0</text>
<text class="tk" x="166.00" y="139.50" text-anchor="middle">9.78</text>
<text class="tk" x="193.50" y="139.50" text-anchor="middle">9.82</text>
<text class="tk" x="227.90" y="139.50" text-anchor="middle">9.87</text>
<path d="M161.60,130.25 L162.13,130.23 L162.67,130.21 L163.20,130.19 L163.73,130.17 L164.27,130.14 L164.80,130.11 L165.33,130.08 L165.87,130.04 L166.40,130.00 L166.93,129.95 L167.47,129.90 L168.00,129.84 L168.53,129.77 L169.07,129.70 L169.60,129.63 L170.13,129.54 L170.67,129.45 L171.20,129.35 L171.73,129.24 L172.27,129.12 L172.80,128.99 L173.33,128.85 L173.87,128.70 L174.40,128.54 L174.93,128.37 L175.47,128.20 L176.00,128.01 L176.53,127.80 L177.07,127.59 L177.60,127.37 L178.13,127.14 L178.67,126.90 L179.20,126.65 L179.73,126.39 L180.27,126.13 L180.80,125.86 L181.33,125.58 L181.87,125.30 L182.40,125.01 L182.93,124.72 L183.47,124.43 L184.00,124.14 L184.53,123.85 L185.07,123.57 L185.60,123.29 L186.13,123.01 L186.67,122.74 L187.20,122.49 L187.73,122.24 L188.27,122.01 L188.80,121.79 L189.33,121.59 L189.87,121.40 L190.40,121.23 L190.93,121.08 L191.47,120.96 L192.00,120.85 L192.53,120.76 L193.07,120.70 L193.60,120.66 L194.13,120.65 L194.67,120.66 L195.20,120.68 L195.73,120.73 L196.27,120.79 L196.80,120.88 L197.33,120.98 L197.87,121.09 L198.40,121.23 L198.93,121.38 L199.47,121.54 L200.00,121.72 L200.53,121.91 L201.07,122.11 L201.60,122.33 L202.13,122.55 L202.67,122.79 L203.20,123.03 L203.73,123.28 L204.27,123.53 L204.80,123.78 L205.33,124.04 L205.87,124.30 L206.40,124.56 L206.93,124.83 L207.47,125.09 L208.00,125.34 L208.53,125.60 L209.07,125.85 L209.60,126.09 L210.13,126.33 L210.67,126.57 L211.20,126.79 L211.73,127.01 L212.27,127.23 L212.80,127.43 L213.33,127.63 L213.87,127.82 L214.40,128.00 L214.93,128.17 L215.47,128.33 L216.00,128.49 L216.53,128.63 L217.07,128.77 L217.60,128.90 L218.13,129.02 L218.67,129.14 L219.20,129.24 L219.73,129.34 L220.27,129.43 L220.80,129.52 L221.33,129.60 L221.87,129.67 L222.40,129.74 L222.93,129.80 L223.47,129.85 L224.00,129.91 L224.53,129.95 L225.07,130.00 L225.60,130.03" fill="none" stroke="#f64a43" stroke-width="1.35" stroke-linejoin="round"/>
<path d="M160.80,129.67 L161.34,129.58 L161.88,129.47 L162.42,129.35 L162.96,129.22 L163.50,129.07 L164.04,128.90 L164.58,128.71 L165.12,128.51 L165.66,128.28 L166.20,128.03 L166.74,127.76 L167.28,127.46 L167.82,127.13 L168.36,126.77 L168.90,126.38 L169.44,125.96 L169.98,125.50 L170.52,125.00 L171.06,124.47 L171.60,123.90 L172.14,123.28 L172.68,122.63 L173.22,121.93 L173.76,121.18 L174.30,120.40 L174.84,119.56 L175.38,118.68 L175.92,117.76 L176.46,116.79 L177.00,115.78 L177.54,114.72 L178.08,113.63 L178.62,112.49 L179.16,111.32 L179.70,110.11 L180.24,108.87 L180.78,107.60 L181.32,106.31 L181.86,105.00 L182.40,103.67 L182.94,102.33 L183.48,100.98 L184.02,99.64 L184.56,98.30 L185.10,96.97 L185.64,95.66 L186.18,94.37 L186.72,93.12 L187.26,91.90 L187.80,90.72 L188.34,89.59 L188.88,88.52 L189.42,87.51 L189.96,86.57 L190.50,85.70 L191.04,84.91 L191.58,84.20 L192.12,83.58 L192.66,83.05 L193.20,82.61 L193.74,82.27 L194.28,82.03 L194.82,81.89 L195.36,81.85 L195.90,81.90 L196.44,82.04 L196.98,82.25 L197.52,82.55 L198.06,82.93 L198.60,83.39 L199.14,83.92 L199.68,84.53 L200.22,85.20 L200.76,85.94 L201.30,86.75 L201.84,87.61 L202.38,88.53 L202.92,89.51 L203.46,90.52 L204.00,91.58 L204.54,92.68 L205.08,93.80 L205.62,94.96 L206.16,96.14 L206.70,97.33 L207.24,98.54 L207.78,99.76 L208.32,100.98 L208.86,102.20 L209.40,103.42 L209.94,104.63 L210.48,105.82 L211.02,107.00 L211.56,108.17 L212.10,109.31 L212.64,110.42 L213.18,111.51 L213.72,112.58 L214.26,113.61 L214.80,114.60 L215.34,115.57 L215.88,116.50 L216.42,117.39 L216.96,118.25 L217.50,119.07 L218.04,119.85 L218.58,120.59 L219.12,121.30 L219.66,121.97 L220.20,122.60 L220.74,123.20 L221.28,123.77 L221.82,124.30 L222.36,124.79 L222.90,125.26 L223.44,125.69 L223.98,126.10 L224.52,126.47 L225.06,126.82 L225.60,127.14" fill="none" stroke="#12b7c2" stroke-width="1.55" stroke-dasharray="2.1 2.35" stroke-linejoin="round"/>
</g>
<g>
<rect x="269.82" y="71.50" width="73.20" height="7.45" fill="#d9d9d9" stroke="#8a8a8a" stroke-width="0.5"/>
<text class="st" x="306.42" y="77.25" text-anchor="middle">limonene (68)</text>
<path d="M269.82,78.95 V132.80 H343.02" fill="none" stroke="#606060" stroke-width="0.65"/>
<path d="M268.32,82.15 H269.82 M268.32,98.35 H269.82 M268.32,114.65 H269.82 M268.32,131.05 H269.82 M278.80,132.80 v1.3 M307.50,132.80 v1.3 M341.20,132.80 v1.3 " fill="none" stroke="#555" stroke-width="0.55"/>
<text class="ty" x="268.32" y="84.75" text-anchor="end">1,500,000</text>
<text class="ty" x="268.32" y="100.95" text-anchor="end">1,000,000</text>
<text class="ty" x="268.32" y="117.25" text-anchor="end">500,000</text>
<text class="ty" x="268.32" y="133.65" text-anchor="end">0</text>
<text class="tk" x="278.80" y="139.50" text-anchor="middle">9.91</text>
<text class="tk" x="307.50" y="139.50" text-anchor="middle">9.95</text>
<text class="tk" x="341.20" y="139.50" text-anchor="middle">10.00</text>
<path d="M274.60,130.34 L275.14,130.34 L275.68,130.34 L276.21,130.33 L276.75,130.33 L277.29,130.33 L277.83,130.32 L278.36,130.32 L278.90,130.31 L279.44,130.30 L279.98,130.30 L280.51,130.29 L281.05,130.28 L281.59,130.26 L282.12,130.25 L282.66,130.23 L283.20,130.21 L283.74,130.19 L284.28,130.16 L284.81,130.13 L285.35,130.10 L285.89,130.07 L286.43,130.02 L286.96,129.98 L287.50,129.93 L288.04,129.87 L288.58,129.81 L289.11,129.74 L289.65,129.66 L290.19,129.58 L290.73,129.49 L291.26,129.39 L291.80,129.28 L292.34,129.17 L292.88,129.04 L293.41,128.91 L293.95,128.77 L294.49,128.62 L295.03,128.46 L295.56,128.29 L296.10,128.11 L296.64,127.93 L297.18,127.73 L297.71,127.53 L298.25,127.32 L298.79,127.11 L299.33,126.89 L299.86,126.67 L300.40,126.44 L300.94,126.22 L301.48,125.99 L302.01,125.76 L302.55,125.53 L303.09,125.31 L303.62,125.10 L304.16,124.89 L304.70,124.68 L305.24,124.49 L305.78,124.31 L306.31,124.14 L306.85,123.98 L307.39,123.84 L307.93,123.72 L308.46,123.61 L309.00,123.52 L309.54,123.45 L310.08,123.39 L310.61,123.36 L311.15,123.35 L311.69,123.36 L312.23,123.38 L312.76,123.41 L313.30,123.46 L313.84,123.52 L314.38,123.59 L314.91,123.68 L315.45,123.78 L315.99,123.89 L316.53,124.01 L317.06,124.14 L317.60,124.28 L318.14,124.43 L318.68,124.58 L319.21,124.75 L319.75,124.92 L320.29,125.10 L320.83,125.28 L321.36,125.46 L321.90,125.65 L322.44,125.83 L322.98,126.02 L323.51,126.21 L324.05,126.40 L324.59,126.59 L325.12,126.78 L325.66,126.96 L326.20,127.15 L326.74,127.32 L327.28,127.50 L327.81,127.67 L328.35,127.83 L328.89,127.99 L329.43,128.14 L329.96,128.29 L330.50,128.43 L331.04,128.56 L331.58,128.69 L332.11,128.82 L332.65,128.93 L333.19,129.04 L333.73,129.15 L334.26,129.25 L334.80,129.34 L335.34,129.42 L335.88,129.50 L336.41,129.58 L336.95,129.65 L337.49,129.71 L338.03,129.77 L338.56,129.83 L339.10,129.88" fill="none" stroke="#f64a43" stroke-width="1.35" stroke-linejoin="round"/>
<path d="M273.80,130.16 L274.34,130.12 L274.89,130.08 L275.43,130.04 L275.98,129.99 L276.52,129.93 L277.06,129.87 L277.61,129.80 L278.15,129.71 L278.70,129.62 L279.24,129.51 L279.79,129.39 L280.33,129.26 L280.87,129.11 L281.42,128.94 L281.96,128.75 L282.51,128.54 L283.05,128.31 L283.60,128.05 L284.14,127.77 L284.68,127.46 L285.23,127.12 L285.77,126.75 L286.32,126.35 L286.86,125.90 L287.40,125.42 L287.95,124.91 L288.49,124.35 L289.04,123.74 L289.58,123.10 L290.12,122.41 L290.67,121.67 L291.21,120.88 L291.76,120.05 L292.30,119.17 L292.85,118.23 L293.39,117.26 L293.93,116.23 L294.48,115.16 L295.02,114.04 L295.57,112.88 L296.11,111.68 L296.66,110.44 L297.20,109.16 L297.74,107.86 L298.29,106.53 L298.83,105.17 L299.38,103.80 L299.92,102.42 L300.46,101.02 L301.01,99.63 L301.55,98.25 L302.10,96.88 L302.64,95.52 L303.19,94.20 L303.73,92.90 L304.27,91.65 L304.82,90.44 L305.36,89.29 L305.91,88.20 L306.45,87.18 L306.99,86.23 L307.54,85.37 L308.08,84.58 L308.63,83.89 L309.17,83.30 L309.72,82.80 L310.26,82.40 L310.80,82.11 L311.35,81.93 L311.89,81.85 L312.44,81.88 L312.98,82.01 L313.52,82.23 L314.07,82.54 L314.61,82.95 L315.16,83.45 L315.70,84.03 L316.25,84.70 L316.79,85.45 L317.33,86.27 L317.88,87.16 L318.42,88.12 L318.97,89.14 L319.51,90.22 L320.05,91.35 L320.60,92.52 L321.14,93.72 L321.69,94.96 L322.23,96.23 L322.78,97.51 L323.32,98.81 L323.86,100.12 L324.41,101.43 L324.95,102.74 L325.50,104.05 L326.04,105.34 L326.58,106.61 L327.13,107.87 L327.67,109.10 L328.22,110.30 L328.76,111.47 L329.31,112.61 L329.85,113.72 L330.39,114.78 L330.94,115.81 L331.48,116.80 L332.03,117.74 L332.57,118.64 L333.11,119.50 L333.66,120.32 L334.20,121.09 L334.75,121.82 L335.29,122.51 L335.84,123.16 L336.38,123.76 L336.92,124.33 L337.47,124.86 L338.01,125.35 L338.56,125.81 L339.10,126.24" fill="none" stroke="#12b7c2" stroke-width="1.55" stroke-dasharray="2.1 2.35" stroke-linejoin="round"/>
</g>
<g>
<rect x="382.98" y="71.50" width="73.20" height="7.45" fill="#d9d9d9" stroke="#8a8a8a" stroke-width="0.5"/>
<text class="st" x="419.58" y="77.25" text-anchor="middle">eucalyptol (154)</text>
<path d="M382.98,78.95 V132.80 H456.18" fill="none" stroke="#606060" stroke-width="0.65"/>
<path d="M381.48,81.75 H382.98 M381.48,94.05 H382.98 M381.48,106.35 H382.98 M381.48,118.65 H382.98 M381.48,131.05 H382.98 M391.80,132.80 v1.3 M420.10,132.80 v1.3 M454.30,132.80 v1.3 " fill="none" stroke="#555" stroke-width="0.55"/>
<text class="ty" x="381.48" y="84.35" text-anchor="end">1,000,000</text>
<text class="ty" x="381.48" y="96.65" text-anchor="end">750,000</text>
<text class="ty" x="381.48" y="108.95" text-anchor="end">500,000</text>
<text class="ty" x="381.48" y="121.25" text-anchor="end">250,000</text>
<text class="ty" x="381.48" y="133.65" text-anchor="end">0</text>
<text class="tk" x="391.80" y="139.50" text-anchor="middle">10.01</text>
<text class="tk" x="420.10" y="139.50" text-anchor="middle">10.06</text>
<text class="tk" x="454.30" y="139.50" text-anchor="middle">10.12</text>
<path d="M387.60,130.24 L388.14,130.24 L388.68,130.24 L389.21,130.23 L389.75,130.23 L390.29,130.23 L390.83,130.23 L391.36,130.22 L391.90,130.22 L392.44,130.22 L392.98,130.21 L393.51,130.21 L394.05,130.21 L394.59,130.20 L395.12,130.20 L395.66,130.19 L396.20,130.19 L396.74,130.18 L397.28,130.18 L397.81,130.17 L398.35,130.16 L398.89,130.15 L399.43,130.15 L399.96,130.14 L400.50,130.13 L401.04,130.12 L401.58,130.11 L402.11,130.10 L402.65,130.09 L403.19,130.08 L403.73,130.07 L404.26,130.06 L404.80,130.05 L405.34,130.04 L405.88,130.02 L406.41,130.01 L406.95,130.00 L407.49,129.99 L408.03,129.98 L408.56,129.96 L409.10,129.95 L409.64,129.94 L410.18,129.93 L410.71,129.92 L411.25,129.91 L411.79,129.89 L412.33,129.88 L412.86,129.87 L413.40,129.86 L413.94,129.85 L414.48,129.85 L415.01,129.84 L415.55,129.83 L416.09,129.82 L416.62,129.82 L417.16,129.81 L417.70,129.81 L418.24,129.80 L418.78,129.80 L419.31,129.80 L419.85,129.80 L420.39,129.80 L420.93,129.80 L421.46,129.80 L422.00,129.81 L422.54,129.81 L423.08,129.81 L423.61,129.82 L424.15,129.83 L424.69,129.83 L425.23,129.84 L425.76,129.85 L426.30,129.86 L426.84,129.87 L427.38,129.88 L427.91,129.89 L428.45,129.90 L428.99,129.91 L429.53,129.92 L430.06,129.93 L430.60,129.95 L431.14,129.96 L431.68,129.97 L432.21,129.98 L432.75,129.99 L433.29,130.01 L433.83,130.02 L434.36,130.03 L434.90,130.04 L435.44,130.05 L435.98,130.06 L436.51,130.08 L437.05,130.09 L437.59,130.10 L438.12,130.11 L438.66,130.12 L439.20,130.12 L439.74,130.13 L440.28,130.14 L440.81,130.15 L441.35,130.16 L441.89,130.16 L442.43,130.17 L442.96,130.18 L443.50,130.18 L444.04,130.19 L444.58,130.19 L445.11,130.20 L445.65,130.20 L446.19,130.21 L446.73,130.21 L447.26,130.22 L447.80,130.22 L448.34,130.22 L448.88,130.23 L449.41,130.23 L449.95,130.23 L450.49,130.23 L451.03,130.23 L451.56,130.24 L452.10,130.24" fill="none" stroke="#f64a43" stroke-width="1.35" stroke-linejoin="round"/>
<path d="M386.80,130.22 L387.34,130.19 L387.89,130.16 L388.43,130.12 L388.98,130.08 L389.52,130.03 L390.06,129.97 L390.61,129.90 L391.15,129.82 L391.70,129.72 L392.24,129.62 L392.79,129.49 L393.33,129.35 L393.87,129.19 L394.42,129.00 L394.96,128.79 L395.51,128.56 L396.05,128.29 L396.60,127.99 L397.14,127.66 L397.68,127.29 L398.23,126.88 L398.77,126.42 L399.32,125.92 L399.86,125.36 L400.40,124.76 L400.95,124.10 L401.49,123.38 L402.04,122.60 L402.58,121.76 L403.12,120.86 L403.67,119.90 L404.21,118.87 L404.76,117.77 L405.30,116.62 L405.85,115.40 L406.39,114.12 L406.93,112.78 L407.48,111.39 L408.02,109.95 L408.57,108.47 L409.11,106.95 L409.66,105.39 L410.20,103.81 L410.74,102.22 L411.29,100.61 L411.83,99.01 L412.38,97.42 L412.92,95.85 L413.46,94.32 L414.01,92.82 L414.55,91.38 L415.10,90.01 L415.64,88.71 L416.19,87.49 L416.73,86.37 L417.27,85.36 L417.82,84.45 L418.36,83.67 L418.91,83.01 L419.45,82.49 L419.99,82.10 L420.54,81.86 L421.08,81.75 L421.63,81.79 L422.17,81.98 L422.72,82.30 L423.26,82.77 L423.80,83.37 L424.35,84.10 L424.89,84.95 L425.44,85.92 L425.98,87.00 L426.52,88.17 L427.07,89.44 L427.61,90.78 L428.16,92.20 L428.70,93.67 L429.25,95.19 L429.79,96.74 L430.33,98.32 L430.88,99.92 L431.42,101.53 L431.97,103.13 L432.51,104.71 L433.05,106.28 L433.60,107.82 L434.14,109.32 L434.69,110.78 L435.23,112.19 L435.78,113.55 L436.32,114.85 L436.86,116.10 L437.41,117.28 L437.95,118.40 L438.50,119.46 L439.04,120.45 L439.58,121.38 L440.13,122.25 L440.67,123.05 L441.22,123.79 L441.76,124.48 L442.31,125.11 L442.85,125.68 L443.39,126.21 L443.94,126.69 L444.48,127.12 L445.03,127.51 L445.57,127.86 L446.11,128.17 L446.66,128.45 L447.20,128.70 L447.75,128.92 L448.29,129.11 L448.84,129.28 L449.38,129.43 L449.92,129.56 L450.47,129.68 L451.01,129.78 L451.56,129.87 L452.10,129.94" fill="none" stroke="#12b7c2" stroke-width="1.55" stroke-dasharray="2.1 2.35" stroke-linejoin="round"/>
</g>
<g>
<rect x="496.14" y="71.50" width="73.20" height="7.45" fill="#d9d9d9" stroke="#8a8a8a" stroke-width="0.5"/>
<text class="st" x="532.74" y="77.25" text-anchor="middle">gamma-terpinene (93)</text>
<path d="M496.14,78.95 V132.80 H569.34" fill="none" stroke="#606060" stroke-width="0.65"/>
<path d="M494.64,87.95 H496.14 M494.64,98.75 H496.14 M494.64,109.55 H496.14 M494.64,120.35 H496.14 M494.64,131.10 H496.14 M505.30,132.80 v1.3 M533.20,132.80 v1.3 M567.20,132.80 v1.3 " fill="none" stroke="#555" stroke-width="0.55"/>
<text class="ty" x="494.64" y="90.55" text-anchor="end">400,000</text>
<text class="ty" x="494.64" y="101.35" text-anchor="end">300,000</text>
<text class="ty" x="494.64" y="112.15" text-anchor="end">200,000</text>
<text class="ty" x="494.64" y="122.95" text-anchor="end">100,000</text>
<text class="ty" x="494.64" y="133.70" text-anchor="end">0</text>
<text class="tk" x="505.30" y="139.50" text-anchor="middle">10.79</text>
<text class="tk" x="533.20" y="139.50" text-anchor="middle">10.84</text>
<text class="tk" x="567.20" y="139.50" text-anchor="middle">10.90</text>
<path d="M501.60,130.44 L502.14,130.44 L502.68,130.44 L503.21,130.44 L503.75,130.43 L504.29,130.43 L504.83,130.43 L505.36,130.43 L505.90,130.43 L506.44,130.42 L506.98,130.42 L507.51,130.42 L508.05,130.42 L508.59,130.41 L509.12,130.41 L509.66,130.40 L510.20,130.40 L510.74,130.40 L511.28,130.39 L511.81,130.39 L512.35,130.38 L512.89,130.38 L513.43,130.37 L513.96,130.36 L514.50,130.36 L515.04,130.35 L515.58,130.35 L516.11,130.34 L516.65,130.33 L517.19,130.32 L517.73,130.32 L518.26,130.31 L518.80,130.30 L519.34,130.29 L519.88,130.29 L520.41,130.28 L520.95,130.27 L521.49,130.26 L522.02,130.25 L522.56,130.24 L523.10,130.24 L523.64,130.23 L524.18,130.22 L524.71,130.21 L525.25,130.21 L525.79,130.20 L526.33,130.19 L526.86,130.19 L527.40,130.18 L527.94,130.18 L528.48,130.17 L529.01,130.17 L529.55,130.16 L530.09,130.16 L530.62,130.16 L531.16,130.15 L531.70,130.15 L532.24,130.15 L532.77,130.15 L533.31,130.15 L533.85,130.15 L534.39,130.15 L534.93,130.15 L535.46,130.16 L536.00,130.16 L536.54,130.16 L537.08,130.17 L537.61,130.17 L538.15,130.18 L538.69,130.18 L539.23,130.19 L539.76,130.19 L540.30,130.20 L540.84,130.21 L541.38,130.21 L541.91,130.22 L542.45,130.23 L542.99,130.24 L543.52,130.25 L544.06,130.25 L544.60,130.26 L545.14,130.27 L545.68,130.28 L546.21,130.29 L546.75,130.29 L547.29,130.30 L547.83,130.31 L548.36,130.32 L548.90,130.33 L549.44,130.33 L549.98,130.34 L550.51,130.35 L551.05,130.35 L551.59,130.36 L552.12,130.37 L552.66,130.37 L553.20,130.38 L553.74,130.38 L554.27,130.39 L554.81,130.39 L555.35,130.40 L555.89,130.40 L556.43,130.41 L556.96,130.41 L557.50,130.41 L558.04,130.42 L558.58,130.42 L559.11,130.42 L559.65,130.42 L560.19,130.43 L560.73,130.43 L561.26,130.43 L561.80,130.43 L562.34,130.43 L562.88,130.44 L563.41,130.44 L563.95,130.44 L564.49,130.44 L565.02,130.44 L565.56,130.44 L566.10,130.44" fill="none" stroke="#f64a43" stroke-width="1.35" stroke-linejoin="round"/>
<path d="M500.80,130.22 L501.34,130.19 L501.89,130.16 L502.43,130.12 L502.98,130.08 L503.52,130.02 L504.06,129.97 L504.61,129.90 L505.15,129.82 L505.70,129.73 L506.24,129.62 L506.79,129.50 L507.33,129.36 L507.87,129.20 L508.42,129.03 L508.96,128.82 L509.51,128.60 L510.05,128.34 L510.60,128.06 L511.14,127.74 L511.68,127.38 L512.23,126.99 L512.77,126.55 L513.32,126.07 L513.86,125.54 L514.40,124.97 L514.95,124.34 L515.49,123.65 L516.04,122.91 L516.58,122.11 L517.12,121.26 L517.67,120.34 L518.21,119.36 L518.76,118.32 L519.30,117.21 L519.85,116.05 L520.39,114.83 L520.93,113.55 L521.48,112.21 L522.02,110.83 L522.57,109.40 L523.11,107.93 L523.65,106.43 L524.20,104.90 L524.74,103.34 L525.29,101.78 L525.83,100.20 L526.38,98.63 L526.92,97.08 L527.46,95.55 L528.01,94.05 L528.55,92.59 L529.10,91.19 L529.64,89.85 L530.19,88.58 L530.73,87.40 L531.27,86.31 L531.82,85.32 L532.36,84.43 L532.91,83.67 L533.45,83.02 L533.99,82.51 L534.54,82.12 L535.08,81.87 L535.63,81.76 L536.17,81.78 L536.72,81.95 L537.26,82.24 L537.80,82.68 L538.35,83.24 L538.89,83.93 L539.44,84.74 L539.98,85.66 L540.52,86.69 L541.07,87.82 L541.61,89.03 L542.16,90.33 L542.70,91.69 L543.25,93.12 L543.79,94.59 L544.33,96.10 L544.88,97.64 L545.42,99.20 L545.97,100.77 L546.51,102.35 L547.05,103.91 L547.60,105.46 L548.14,106.98 L548.69,108.47 L549.23,109.93 L549.77,111.34 L550.32,112.70 L550.86,114.02 L551.41,115.28 L551.95,116.48 L552.50,117.62 L553.04,118.70 L553.58,119.72 L554.13,120.68 L554.67,121.57 L555.22,122.41 L555.76,123.19 L556.31,123.91 L556.85,124.57 L557.39,125.18 L557.94,125.74 L558.48,126.25 L559.03,126.71 L559.57,127.13 L560.11,127.51 L560.66,127.86 L561.20,128.16 L561.75,128.44 L562.29,128.68 L562.84,128.90 L563.38,129.09 L563.92,129.26 L564.47,129.41 L565.01,129.55 L565.56,129.66 L566.10,129.76" fill="none" stroke="#12b7c2" stroke-width="1.55" stroke-dasharray="2.1 2.35" stroke-linejoin="round"/>
</g>
<g>
<rect x="43.50" y="142.55" width="73.20" height="7.45" fill="#d9d9d9" stroke="#8a8a8a" stroke-width="0.5"/>
<text class="st" x="80.10" y="148.30" text-anchor="middle">terpinolene (93)</text>
<path d="M43.50,150.00 V204.15 H116.70" fill="none" stroke="#606060" stroke-width="0.65"/>
<path d="M42.00,156.30 H43.50 M42.00,171.70 H43.50 M42.00,187.20 H43.50 M42.00,202.60 H43.50 M50.90,204.15 v1.3 M82.60,204.15 v1.3 M115.00,204.15 v1.3 " fill="none" stroke="#555" stroke-width="0.55"/>
<text class="ty" x="42.00" y="158.90" text-anchor="end">60,000</text>
<text class="ty" x="42.00" y="174.30" text-anchor="end">40,000</text>
<text class="ty" x="42.00" y="189.80" text-anchor="end">20,000</text>
<text class="ty" x="42.00" y="205.20" text-anchor="end">0</text>
<text class="tk" x="50.90" y="210.85" text-anchor="middle">11.61</text>
<text class="tk" x="82.60" y="210.85" text-anchor="middle">11.68</text>
<text class="tk" x="115.00" y="210.85" text-anchor="middle">11.75</text>
<path d="M48.40,201.70 L48.94,201.70 L49.48,201.70 L50.02,201.70 L50.56,201.70 L51.10,201.70 L51.63,201.70 L52.17,201.70 L52.71,201.70 L53.25,201.70 L53.79,201.70 L54.33,201.70 L54.87,201.70 L55.41,201.70 L55.95,201.70 L56.49,201.69 L57.03,201.69 L57.57,201.69 L58.10,201.69 L58.64,201.68 L59.18,201.68 L59.72,201.67 L60.26,201.67 L60.80,201.66 L61.34,201.64 L61.88,201.63 L62.42,201.61 L62.96,201.59 L63.50,201.56 L64.04,201.53 L64.57,201.49 L65.11,201.45 L65.65,201.40 L66.19,201.34 L66.73,201.28 L67.27,201.20 L67.81,201.12 L68.35,201.02 L68.89,200.92 L69.43,200.80 L69.97,200.68 L70.51,200.55 L71.04,200.41 L71.58,200.26 L72.12,200.11 L72.66,199.95 L73.20,199.79 L73.74,199.63 L74.28,199.47 L74.82,199.31 L75.36,199.17 L75.90,199.03 L76.44,198.90 L76.98,198.79 L77.51,198.69 L78.05,198.61 L78.59,198.55 L79.13,198.52 L79.67,198.50 L80.21,198.51 L80.75,198.53 L81.29,198.57 L81.83,198.62 L82.37,198.70 L82.91,198.78 L83.45,198.89 L83.98,199.00 L84.52,199.12 L85.06,199.25 L85.60,199.39 L86.14,199.53 L86.68,199.67 L87.22,199.82 L87.76,199.96 L88.30,200.11 L88.84,200.24 L89.38,200.38 L89.92,200.51 L90.45,200.63 L90.99,200.74 L91.53,200.85 L92.07,200.95 L92.61,201.04 L93.15,201.13 L93.69,201.20 L94.23,201.27 L94.77,201.33 L95.31,201.39 L95.85,201.43 L96.39,201.47 L96.92,201.51 L97.46,201.54 L98.00,201.57 L98.54,201.59 L99.08,201.61 L99.62,201.63 L100.16,201.64 L100.70,201.65 L101.24,201.66 L101.78,201.67 L102.32,201.68 L102.86,201.68 L103.39,201.69 L103.93,201.69 L104.47,201.69 L105.01,201.69 L105.55,201.69 L106.09,201.70 L106.63,201.70 L107.17,201.70 L107.71,201.70 L108.25,201.70 L108.79,201.70 L109.33,201.70 L109.86,201.70 L110.40,201.70 L110.94,201.70 L111.48,201.70 L112.02,201.70 L112.56,201.70 L113.10,201.70" fill="none" stroke="#f64a43" stroke-width="1.35" stroke-linejoin="round"/>
<path d="M47.80,201.54 L48.34,201.54 L48.89,201.54 L49.43,201.54 L49.98,201.53 L50.52,201.53 L51.06,201.52 L51.61,201.51 L52.15,201.50 L52.70,201.49 L53.24,201.47 L53.79,201.44 L54.33,201.41 L54.87,201.38 L55.42,201.33 L55.96,201.28 L56.51,201.21 L57.05,201.13 L57.59,201.03 L58.14,200.91 L58.68,200.76 L59.23,200.59 L59.77,200.39 L60.32,200.15 L60.86,199.87 L61.40,199.55 L61.95,199.17 L62.49,198.74 L63.04,198.25 L63.58,197.68 L64.12,197.05 L64.67,196.33 L65.21,195.53 L65.76,194.64 L66.30,193.65 L66.85,192.57 L67.39,191.38 L67.93,190.10 L68.48,188.71 L69.02,187.23 L69.57,185.64 L70.11,183.97 L70.66,182.21 L71.20,180.38 L71.74,178.49 L72.29,176.54 L72.83,174.56 L73.38,172.56 L73.92,170.56 L74.46,168.58 L75.01,166.63 L75.55,164.75 L76.10,162.95 L76.64,161.25 L77.19,159.68 L77.73,158.26 L78.27,156.99 L78.82,155.91 L79.36,155.02 L79.91,154.34 L80.45,153.88 L80.99,153.64 L81.54,153.62 L82.08,153.83 L82.63,154.26 L83.17,154.90 L83.72,155.74 L84.26,156.77 L84.80,157.99 L85.35,159.37 L85.89,160.89 L86.44,162.54 L86.98,164.29 L87.52,166.13 L88.07,168.04 L88.61,169.99 L89.16,171.96 L89.70,173.94 L90.25,175.91 L90.79,177.84 L91.33,179.73 L91.88,181.57 L92.42,183.33 L92.97,185.02 L93.51,186.62 L94.05,188.12 L94.60,189.54 L95.14,190.85 L95.69,192.06 L96.23,193.18 L96.78,194.20 L97.32,195.13 L97.86,195.96 L98.41,196.71 L98.95,197.38 L99.50,197.98 L100.04,198.50 L100.58,198.96 L101.13,199.37 L101.67,199.72 L102.22,200.02 L102.76,200.28 L103.30,200.50 L103.85,200.69 L104.39,200.85 L104.94,200.98 L105.48,201.10 L106.03,201.19 L106.57,201.27 L107.11,201.33 L107.66,201.39 L108.20,201.43 L108.75,201.46 L109.29,201.49 L109.83,201.51 L110.38,201.53 L110.92,201.55 L111.47,201.56 L112.01,201.57 L112.56,201.58 L113.10,201.58" fill="none" stroke="#12b7c2" stroke-width="1.55" stroke-dasharray="2.1 2.35" stroke-linejoin="round"/>
</g>
<g>
<rect x="156.66" y="142.55" width="73.20" height="7.45" fill="#d9d9d9" stroke="#8a8a8a" stroke-width="0.5"/>
<text class="st" x="193.26" y="148.30" text-anchor="middle">menthone (112)</text>
<path d="M156.66,150.00 V204.15 H229.86" fill="none" stroke="#606060" stroke-width="0.65"/>
<path d="M155.16,162.20 H156.66 M155.16,175.60 H156.66 M155.16,188.80 H156.66 M155.16,202.00 H156.66 M166.20,204.15 v1.3 M194.00,204.15 v1.3 M228.40,204.15 v1.3 " fill="none" stroke="#555" stroke-width="0.55"/>
<text class="ty" x="155.16" y="164.80" text-anchor="end">90,000</text>
<text class="ty" x="155.16" y="178.20" text-anchor="end">60,000</text>
<text class="ty" x="155.16" y="191.40" text-anchor="end">30,000</text>
<text class="ty" x="155.16" y="204.60" text-anchor="end">0</text>
<text class="tk" x="166.20" y="210.85" text-anchor="middle">13.85</text>
<text class="tk" x="194.00" y="210.85" text-anchor="middle">13.89</text>
<text class="tk" x="228.40" y="210.85" text-anchor="middle">13.94</text>
<path d="M161.60,201.18 L162.13,201.18 L162.67,201.17 L163.20,201.17 L163.73,201.17 L164.27,201.16 L164.80,201.16 L165.33,201.15 L165.87,201.15 L166.40,201.14 L166.93,201.14 L167.47,201.13 L168.00,201.12 L168.53,201.12 L169.07,201.11 L169.60,201.10 L170.13,201.09 L170.67,201.08 L171.20,201.07 L171.73,201.06 L172.27,201.04 L172.80,201.03 L173.33,201.02 L173.87,201.00 L174.40,200.99 L174.93,200.97 L175.47,200.96 L176.00,200.94 L176.53,200.92 L177.07,200.90 L177.60,200.89 L178.13,200.87 L178.67,200.85 L179.20,200.83 L179.73,200.81 L180.27,200.78 L180.80,200.76 L181.33,200.74 L181.87,200.72 L182.40,200.70 L182.93,200.68 L183.47,200.66 L184.00,200.63 L184.53,200.61 L185.07,200.59 L185.60,200.57 L186.13,200.55 L186.67,200.54 L187.20,200.52 L187.73,200.50 L188.27,200.49 L188.80,200.47 L189.33,200.46 L189.87,200.45 L190.40,200.44 L190.93,200.43 L191.47,200.42 L192.00,200.41 L192.53,200.41 L193.07,200.40 L193.60,200.40 L194.13,200.40 L194.67,200.40 L195.20,200.40 L195.73,200.41 L196.27,200.41 L196.80,200.42 L197.33,200.43 L197.87,200.44 L198.40,200.45 L198.93,200.46 L199.47,200.48 L200.00,200.49 L200.53,200.51 L201.07,200.53 L201.60,200.55 L202.13,200.56 L202.67,200.58 L203.20,200.60 L203.73,200.62 L204.27,200.65 L204.80,200.67 L205.33,200.69 L205.87,200.71 L206.40,200.73 L206.93,200.75 L207.47,200.77 L208.00,200.79 L208.53,200.82 L209.07,200.84 L209.60,200.86 L210.13,200.88 L210.67,200.90 L211.20,200.91 L211.73,200.93 L212.27,200.95 L212.80,200.97 L213.33,200.98 L213.87,201.00 L214.40,201.01 L214.93,201.03 L215.47,201.04 L216.00,201.05 L216.53,201.06 L217.07,201.07 L217.60,201.08 L218.13,201.09 L218.67,201.10 L219.20,201.11 L219.73,201.12 L220.27,201.13 L220.80,201.13 L221.33,201.14 L221.87,201.15 L222.40,201.15 L222.93,201.16 L223.47,201.16 L224.00,201.16 L224.53,201.17 L225.07,201.17 L225.60,201.18" fill="none" stroke="#f64a43" stroke-width="1.35" stroke-linejoin="round"/>
<path d="M160.80,200.67 L161.34,200.56 L161.88,200.43 L162.42,200.29 L162.96,200.14 L163.50,199.97 L164.04,199.78 L164.58,199.57 L165.12,199.34 L165.66,199.09 L166.20,198.82 L166.74,198.51 L167.28,198.19 L167.82,197.83 L168.36,197.44 L168.90,197.02 L169.44,196.57 L169.98,196.08 L170.52,195.56 L171.06,194.99 L171.60,194.39 L172.14,193.75 L172.68,193.07 L173.22,192.34 L173.76,191.58 L174.30,190.77 L174.84,189.91 L175.38,189.02 L175.92,188.08 L176.46,187.10 L177.00,186.08 L177.54,185.02 L178.08,183.92 L178.62,182.78 L179.16,181.62 L179.70,180.42 L180.24,179.19 L180.78,177.94 L181.32,176.67 L181.86,175.38 L182.40,174.08 L182.94,172.77 L183.48,171.46 L184.02,170.16 L184.56,168.86 L185.10,167.57 L185.64,166.31 L186.18,165.07 L186.72,163.86 L187.26,162.69 L187.80,161.56 L188.34,160.48 L188.88,159.45 L189.42,158.49 L189.96,157.59 L190.50,156.76 L191.04,156.01 L191.58,155.33 L192.12,154.74 L192.66,154.24 L193.20,153.82 L193.74,153.50 L194.28,153.27 L194.82,153.14 L195.36,153.10 L195.90,153.16 L196.44,153.31 L196.98,153.56 L197.52,153.91 L198.06,154.34 L198.60,154.87 L199.14,155.48 L199.68,156.17 L200.22,156.94 L200.76,157.79 L201.30,158.70 L201.84,159.68 L202.38,160.71 L202.92,161.81 L203.46,162.94 L204.00,164.12 L204.54,165.34 L205.08,166.59 L205.62,167.86 L206.16,169.15 L206.70,170.45 L207.24,171.76 L207.78,173.07 L208.32,174.37 L208.86,175.67 L209.40,176.95 L209.94,178.22 L210.48,179.47 L211.02,180.69 L211.56,181.88 L212.10,183.04 L212.64,184.17 L213.18,185.26 L213.72,186.31 L214.26,187.32 L214.80,188.29 L215.34,189.22 L215.88,190.11 L216.42,190.95 L216.96,191.75 L217.50,192.51 L218.04,193.22 L218.58,193.90 L219.12,194.53 L219.66,195.12 L220.20,195.68 L220.74,196.19 L221.28,196.67 L221.82,197.12 L222.36,197.53 L222.90,197.91 L223.44,198.26 L223.98,198.58 L224.52,198.88 L225.06,199.15 L225.60,199.40" fill="none" stroke="#12b7c2" stroke-width="1.55" stroke-dasharray="2.1 2.35" stroke-linejoin="round"/>
</g>
<g>
<rect x="269.82" y="142.55" width="73.20" height="7.45" fill="#d9d9d9" stroke="#8a8a8a" stroke-width="0.5"/>
<text class="st" x="306.42" y="148.30" text-anchor="middle">menthofuran (108)</text>
<path d="M269.82,150.00 V204.15 H343.02" fill="none" stroke="#606060" stroke-width="0.65"/>
<path d="M268.32,155.50 H269.82 M268.32,171.00 H269.82 M268.32,186.50 H269.82 M268.32,201.90 H269.82 M277.80,204.15 v1.3 M307.10,204.15 v1.3 M341.30,204.15 v1.3 " fill="none" stroke="#555" stroke-width="0.55"/>
<text class="ty" x="268.32" y="158.10" text-anchor="end">1,500,000</text>
<text class="ty" x="268.32" y="173.60" text-anchor="end">1,000,000</text>
<text class="ty" x="268.32" y="189.10" text-anchor="end">500,000</text>
<text class="ty" x="268.32" y="204.50" text-anchor="end">0</text>
<text class="tk" x="277.80" y="210.85" text-anchor="middle">14.04</text>
<text class="tk" x="307.10" y="210.85" text-anchor="middle">14.10</text>
<text class="tk" x="341.30" y="210.85" text-anchor="middle">14.17</text>
<path d="M274.00,202.00 L274.54,202.00 L275.08,202.00 L275.62,202.00 L276.17,202.00 L276.71,202.00 L277.25,202.00 L277.79,202.00 L278.33,202.00 L278.88,202.00 L279.42,202.00 L279.96,202.00 L280.50,202.00 L281.04,202.00 L281.58,202.00 L282.12,202.00 L282.67,202.00 L283.21,202.00 L283.75,202.00 L284.29,202.00 L284.83,202.00 L285.38,202.00 L285.92,202.00 L286.46,202.00 L287.00,202.00 L287.54,202.00 L288.08,202.00 L288.62,202.00 L289.17,202.00 L289.71,202.00 L290.25,202.00 L290.79,202.00 L291.33,202.00 L291.88,202.00 L292.42,202.00 L292.96,202.00 L293.50,202.00 L294.04,202.00 L294.58,202.00 L295.12,202.00 L295.67,202.00 L296.21,202.00 L296.75,202.00 L297.29,202.00 L297.83,202.00 L298.38,202.00 L298.92,202.00 L299.46,202.00 L300.00,202.00 L300.54,202.00 L301.08,202.00 L301.62,202.00 L302.17,202.00 L302.71,202.00 L303.25,202.00 L303.79,202.00 L304.33,202.00 L304.88,202.00 L305.42,202.00 L305.96,202.00 L306.50,202.00 L307.04,202.00 L307.58,202.00 L308.12,202.00 L308.67,202.00 L309.21,202.00 L309.75,202.00 L310.29,202.00 L310.83,202.00 L311.38,202.00 L311.92,202.00 L312.46,202.00 L313.00,202.00 L313.54,202.00 L314.08,202.00 L314.62,202.00 L315.17,202.00 L315.71,202.00 L316.25,202.00 L316.79,202.00 L317.33,202.00 L317.88,202.00 L318.42,202.00 L318.96,202.00 L319.50,202.00 L320.04,202.00 L320.58,202.00 L321.12,202.00 L321.67,202.00 L322.21,202.00 L322.75,202.00 L323.29,202.00 L323.83,202.00 L324.38,202.00 L324.92,202.00 L325.46,202.00 L326.00,202.00 L326.54,202.00 L327.08,202.00 L327.62,202.00 L328.17,202.00 L328.71,202.00 L329.25,202.00 L329.79,202.00 L330.33,202.00 L330.88,202.00 L331.42,202.00 L331.96,202.00 L332.50,202.00 L333.04,202.00 L333.58,202.00 L334.12,202.00 L334.67,202.00 L335.21,202.00 L335.75,202.00 L336.29,202.00 L336.83,202.00 L337.38,202.00 L337.92,202.00 L338.46,202.00 L339.00,202.00" fill="none" stroke="#f64a43" stroke-width="1.35" stroke-linejoin="round"/>
<path d="M273.80,201.87 L274.34,201.86 L274.89,201.85 L275.43,201.84 L275.97,201.82 L276.52,201.81 L277.06,201.78 L277.60,201.76 L278.15,201.73 L278.69,201.69 L279.23,201.65 L279.78,201.59 L280.32,201.53 L280.86,201.46 L281.41,201.37 L281.95,201.27 L282.49,201.16 L283.04,201.02 L283.58,200.86 L284.12,200.68 L284.67,200.48 L285.21,200.24 L285.75,199.97 L286.30,199.67 L286.84,199.32 L287.38,198.93 L287.93,198.50 L288.47,198.01 L289.01,197.48 L289.56,196.88 L290.10,196.22 L290.64,195.50 L291.19,194.71 L291.73,193.86 L292.27,192.93 L292.82,191.93 L293.36,190.85 L293.90,189.70 L294.45,188.47 L294.99,187.18 L295.53,185.81 L296.08,184.38 L296.62,182.88 L297.16,181.32 L297.71,179.72 L298.25,178.07 L298.79,176.38 L299.34,174.67 L299.88,172.94 L300.42,171.21 L300.97,169.48 L301.51,167.78 L302.05,166.11 L302.60,164.48 L303.14,162.91 L303.68,161.42 L304.23,160.01 L304.77,158.70 L305.31,157.50 L305.86,156.42 L306.40,155.48 L306.94,154.68 L307.49,154.02 L308.03,153.53 L308.57,153.19 L309.12,153.02 L309.66,153.02 L310.20,153.18 L310.75,153.51 L311.29,154.00 L311.83,154.65 L312.38,155.44 L312.92,156.38 L313.46,157.45 L314.01,158.65 L314.55,159.95 L315.09,161.36 L315.64,162.85 L316.18,164.41 L316.72,166.04 L317.27,167.71 L317.81,169.41 L318.35,171.14 L318.90,172.87 L319.44,174.60 L319.98,176.31 L320.53,178.00 L321.07,179.65 L321.61,181.26 L322.16,182.81 L322.70,184.31 L323.24,185.75 L323.79,187.12 L324.33,188.42 L324.87,189.65 L325.42,190.80 L325.96,191.88 L326.50,192.89 L327.05,193.82 L327.59,194.68 L328.13,195.47 L328.68,196.19 L329.22,196.85 L329.76,197.45 L330.31,197.99 L330.85,198.48 L331.39,198.92 L331.94,199.30 L332.48,199.65 L333.02,199.96 L333.57,200.23 L334.11,200.47 L334.65,200.67 L335.20,200.86 L335.74,201.01 L336.28,201.15 L336.83,201.27 L337.37,201.37 L337.91,201.46 L338.46,201.53 L339.00,201.59" fill="none" stroke="#12b7c2" stroke-width="1.55" stroke-dasharray="2.1 2.35" stroke-linejoin="round"/>
</g>
<g>
<rect x="382.98" y="142.55" width="73.20" height="7.45" fill="#d9d9d9" stroke="#8a8a8a" stroke-width="0.5"/>
<text class="st" x="419.58" y="148.30" text-anchor="middle">isomenthone (112)</text>
<path d="M382.98,150.00 V204.15 H456.18" fill="none" stroke="#606060" stroke-width="0.65"/>
<path d="M381.48,161.50 H382.98 M381.48,175.10 H382.98 M381.48,188.50 H382.98 M381.48,202.00 H382.98 M392.10,204.15 v1.3 M423.30,204.15 v1.3 M454.30,204.15 v1.3 " fill="none" stroke="#555" stroke-width="0.55"/>
<text class="ty" x="381.48" y="164.10" text-anchor="end">90,000</text>
<text class="ty" x="381.48" y="177.70" text-anchor="end">60,000</text>
<text class="ty" x="381.48" y="191.10" text-anchor="end">30,000</text>
<text class="ty" x="381.48" y="204.60" text-anchor="end">0</text>
<text class="tk" x="392.10" y="210.85" text-anchor="middle">14.13</text>
<text class="tk" x="423.30" y="210.85" text-anchor="middle">14.18</text>
<text class="tk" x="454.30" y="210.85" text-anchor="middle">14.23</text>
<path d="M388.00,201.35 L388.52,201.35 L389.05,201.34 L389.57,201.34 L390.10,201.33 L390.62,201.32 L391.14,201.32 L391.67,201.31 L392.19,201.30 L392.72,201.29 L393.24,201.28 L393.77,201.26 L394.29,201.25 L394.81,201.24 L395.34,201.22 L395.86,201.21 L396.39,201.19 L396.91,201.18 L397.44,201.16 L397.96,201.14 L398.48,201.13 L399.01,201.11 L399.53,201.09 L400.06,201.07 L400.58,201.05 L401.10,201.03 L401.63,201.01 L402.15,200.99 L402.68,200.97 L403.20,200.95 L403.73,200.94 L404.25,200.92 L404.77,200.90 L405.30,200.89 L405.82,200.87 L406.35,200.86 L406.87,200.85 L407.39,200.83 L407.92,200.82 L408.44,200.82 L408.97,200.81 L409.49,200.80 L410.01,200.80 L410.54,200.80 L411.06,200.80 L411.59,200.80 L412.11,200.81 L412.64,200.81 L413.16,200.82 L413.68,200.83 L414.21,200.84 L414.73,200.85 L415.26,200.86 L415.78,200.88 L416.31,200.89 L416.83,200.91 L417.35,200.93 L417.88,200.95 L418.40,200.96 L418.93,200.98 L419.45,201.00 L419.97,201.03 L420.50,201.05 L421.02,201.07 L421.55,201.09 L422.07,201.11 L422.59,201.13 L423.12,201.15 L423.64,201.17 L424.17,201.19 L424.69,201.21 L425.22,201.23 L425.74,201.25 L426.26,201.26 L426.79,201.28 L427.31,201.29 L427.84,201.31 L428.36,201.32 L428.88,201.34 L429.41,201.35 L429.93,201.36 L430.46,201.37 L430.98,201.38 L431.51,201.39 L432.03,201.40 L432.55,201.41 L433.08,201.42 L433.60,201.42 L434.13,201.43 L434.65,201.44 L435.17,201.44 L435.70,201.45 L436.22,201.45 L436.75,201.45 L437.27,201.46 L437.80,201.46 L438.32,201.46 L438.84,201.47 L439.37,201.47 L439.89,201.47 L440.42,201.47 L440.94,201.48 L441.46,201.48 L441.99,201.48 L442.51,201.48 L443.04,201.48 L443.56,201.49 L444.09,201.49 L444.61,201.49 L445.13,201.49 L445.66,201.49 L446.18,201.49 L446.71,201.49 L447.23,201.49 L447.75,201.49 L448.28,201.50 L448.80,201.50 L449.33,201.50 L449.85,201.50 L450.38,201.50 L450.90,201.50" fill="none" stroke="#f64a43" stroke-width="1.35" stroke-linejoin="round"/>
<path d="M387.50,197.86 L388.03,197.48 L388.56,197.07 L389.08,196.63 L389.61,196.15 L390.14,195.64 L390.67,195.09 L391.20,194.50 L391.73,193.88 L392.25,193.21 L392.78,192.51 L393.31,191.76 L393.84,190.97 L394.37,190.14 L394.90,189.27 L395.43,188.35 L395.95,187.40 L396.48,186.41 L397.01,185.37 L397.54,184.30 L398.07,183.19 L398.59,182.05 L399.12,180.88 L399.65,179.68 L400.18,178.46 L400.71,177.21 L401.24,175.95 L401.76,174.67 L402.29,173.38 L402.82,172.09 L403.35,170.80 L403.88,169.51 L404.41,168.24 L404.94,166.98 L405.46,165.74 L405.99,164.53 L406.52,163.35 L407.05,162.21 L407.58,161.12 L408.11,160.08 L408.63,159.09 L409.16,158.16 L409.69,157.30 L410.22,156.50 L410.75,155.78 L411.27,155.14 L411.80,154.59 L412.33,154.11 L412.86,153.73 L413.39,153.43 L413.92,153.23 L414.44,153.12 L414.97,153.11 L415.50,153.18 L416.03,153.35 L416.56,153.62 L417.09,153.97 L417.62,154.41 L418.14,154.94 L418.67,155.55 L419.20,156.25 L419.73,157.01 L420.26,157.85 L420.78,158.76 L421.31,159.73 L421.84,160.76 L422.37,161.83 L422.90,162.96 L423.43,164.12 L423.95,165.32 L424.48,166.55 L425.01,167.80 L425.54,169.07 L426.07,170.36 L426.60,171.65 L427.12,172.94 L427.65,174.23 L428.18,175.51 L428.71,176.78 L429.24,178.03 L429.77,179.26 L430.29,180.47 L430.82,181.65 L431.35,182.80 L431.88,183.92 L432.41,185.01 L432.94,186.05 L433.46,187.06 L433.99,188.03 L434.52,188.96 L435.05,189.85 L435.58,190.69 L436.11,191.49 L436.63,192.26 L437.16,192.98 L437.69,193.65 L438.22,194.29 L438.75,194.89 L439.28,195.45 L439.80,195.98 L440.33,196.47 L440.86,196.92 L441.39,197.34 L441.92,197.73 L442.45,198.09 L442.97,198.43 L443.50,198.73 L444.03,199.01 L444.56,199.26 L445.09,199.50 L445.62,199.71 L446.14,199.90 L446.67,200.08 L447.20,200.24 L447.73,200.38 L448.26,200.51 L448.79,200.62 L449.31,200.73 L449.84,200.82 L450.37,200.90 L450.90,200.98" fill="none" stroke="#12b7c2" stroke-width="1.55" stroke-dasharray="2.1 2.35" stroke-linejoin="round"/>
</g>
<g>
<rect x="496.14" y="142.55" width="73.20" height="7.45" fill="#d9d9d9" stroke="#8a8a8a" stroke-width="0.5"/>
<text class="st" x="532.74" y="148.30" text-anchor="middle">menthol (71)</text>
<path d="M496.14,150.00 V204.15 H569.34" fill="none" stroke="#606060" stroke-width="0.65"/>
<path d="M494.64,167.20 H496.14 M494.64,184.60 H496.14 M494.64,201.90 H496.14 M505.20,204.15 v1.3 M538.50,204.15 v1.3 M567.40,204.15 v1.3 " fill="none" stroke="#555" stroke-width="0.55"/>
<text class="ty" x="494.64" y="169.80" text-anchor="end">100,000</text>
<text class="ty" x="494.64" y="187.20" text-anchor="end">50,000</text>
<text class="ty" x="494.64" y="204.50" text-anchor="end">0</text>
<text class="tk" x="505.20" y="210.85" text-anchor="middle">14.26</text>
<text class="tk" x="538.50" y="210.85" text-anchor="middle">14.32</text>
<text class="tk" x="567.40" y="210.85" text-anchor="middle">14.37</text>
<path d="M501.60,201.30 L502.13,201.29 L502.67,201.28 L503.20,201.27 L503.73,201.26 L504.27,201.25 L504.80,201.24 L505.33,201.23 L505.87,201.21 L506.40,201.20 L506.93,201.18 L507.47,201.17 L508.00,201.15 L508.53,201.14 L509.07,201.12 L509.60,201.10 L510.13,201.09 L510.67,201.07 L511.20,201.06 L511.73,201.04 L512.27,201.02 L512.80,201.01 L513.33,200.99 L513.87,200.98 L514.40,200.97 L514.93,200.96 L515.47,200.94 L516.00,200.93 L516.53,200.93 L517.07,200.92 L517.60,200.91 L518.13,200.91 L518.67,200.90 L519.20,200.90 L519.73,200.90 L520.27,200.90 L520.80,200.90 L521.33,200.91 L521.87,200.91 L522.40,200.92 L522.93,200.93 L523.47,200.94 L524.00,200.95 L524.53,200.96 L525.07,200.97 L525.60,200.99 L526.13,201.00 L526.67,201.02 L527.20,201.03 L527.73,201.05 L528.27,201.07 L528.80,201.08 L529.33,201.10 L529.87,201.12 L530.40,201.14 L530.93,201.15 L531.47,201.17 L532.00,201.19 L532.53,201.21 L533.07,201.22 L533.60,201.24 L534.13,201.26 L534.67,201.27 L535.20,201.29 L535.73,201.30 L536.27,201.31 L536.80,201.33 L537.33,201.34 L537.87,201.35 L538.40,201.36 L538.93,201.37 L539.47,201.38 L540.00,201.39 L540.53,201.40 L541.07,201.40 L541.60,201.41 L542.13,201.42 L542.67,201.42 L543.20,201.43 L543.73,201.43 L544.27,201.44 L544.80,201.44 L545.33,201.45 L545.87,201.45 L546.40,201.45 L546.93,201.46 L547.47,201.46 L548.00,201.46 L548.53,201.46 L549.07,201.47 L549.60,201.47 L550.13,201.47 L550.67,201.47 L551.20,201.47 L551.73,201.47 L552.27,201.48 L552.80,201.48 L553.33,201.48 L553.87,201.48 L554.40,201.48 L554.93,201.48 L555.47,201.48 L556.00,201.48 L556.53,201.49 L557.07,201.49 L557.60,201.49 L558.13,201.49 L558.67,201.49 L559.20,201.49 L559.73,201.49 L560.27,201.49 L560.80,201.49 L561.33,201.49 L561.87,201.49 L562.40,201.49 L562.93,201.50 L563.47,201.50 L564.00,201.50 L564.53,201.50 L565.07,201.50 L565.60,201.50" fill="none" stroke="#f64a43" stroke-width="1.35" stroke-linejoin="round"/>
<path d="M500.80,200.97 L501.34,200.87 L501.88,200.76 L502.42,200.64 L502.96,200.50 L503.50,200.34 L504.04,200.17 L504.58,199.97 L505.12,199.75 L505.66,199.51 L506.20,199.24 L506.74,198.94 L507.28,198.61 L507.82,198.25 L508.36,197.85 L508.90,197.41 L509.44,196.93 L509.98,196.41 L510.52,195.84 L511.06,195.22 L511.60,194.56 L512.14,193.84 L512.68,193.07 L513.22,192.25 L513.76,191.38 L514.30,190.45 L514.84,189.46 L515.38,188.42 L515.92,187.32 L516.46,186.17 L517.00,184.97 L517.54,183.72 L518.08,182.42 L518.62,181.08 L519.16,179.71 L519.70,178.30 L520.24,176.86 L520.78,175.40 L521.32,173.92 L521.86,172.43 L522.40,170.94 L522.94,169.46 L523.48,167.99 L524.02,166.54 L524.56,165.13 L525.10,163.75 L525.64,162.42 L526.18,161.15 L526.72,159.94 L527.26,158.81 L527.80,157.76 L528.34,156.80 L528.88,155.93 L529.42,155.17 L529.96,154.51 L530.50,153.97 L531.04,153.55 L531.58,153.24 L532.12,153.06 L532.66,153.00 L533.20,153.07 L533.74,153.27 L534.28,153.60 L534.82,154.05 L535.36,154.63 L535.90,155.33 L536.44,156.14 L536.98,157.05 L537.52,158.06 L538.06,159.16 L538.60,160.35 L539.14,161.61 L539.68,162.93 L540.22,164.31 L540.76,165.73 L541.30,167.19 L541.84,168.67 L542.38,170.17 L542.92,171.68 L543.46,173.19 L544.00,174.69 L544.54,176.18 L545.08,177.64 L545.62,179.07 L546.16,180.47 L546.70,181.83 L547.24,183.14 L547.78,184.40 L548.32,185.61 L548.86,186.77 L549.40,187.87 L549.94,188.91 L550.48,189.90 L551.02,190.82 L551.56,191.69 L552.10,192.50 L552.64,193.25 L553.18,193.95 L553.72,194.59 L554.26,195.18 L554.80,195.73 L555.34,196.22 L555.88,196.67 L556.42,197.08 L556.96,197.45 L557.50,197.79 L558.04,198.09 L558.58,198.35 L559.12,198.59 L559.66,198.80 L560.20,198.99 L560.74,199.15 L561.28,199.29 L561.82,199.42 L562.36,199.53 L562.90,199.62 L563.44,199.70 L563.98,199.77 L564.52,199.83 L565.06,199.88 L565.60,199.92" fill="none" stroke="#12b7c2" stroke-width="1.55" stroke-dasharray="2.1 2.35" stroke-linejoin="round"/>
</g>
<g>
<rect x="43.50" y="213.95" width="73.20" height="7.45" fill="#d9d9d9" stroke="#8a8a8a" stroke-width="0.5"/>
<text class="st" x="80.10" y="219.70" text-anchor="middle">isomenthol (71)</text>
<path d="M43.50,221.40 V275.50 H116.70" fill="none" stroke="#606060" stroke-width="0.65"/>
<path d="M42.00,234.45 H43.50 M42.00,248.55 H43.50 M42.00,262.45 H43.50 M53.00,275.50 v1.3 M81.10,275.50 v1.3 M115.30,275.50 v1.3 " fill="none" stroke="#555" stroke-width="0.55"/>
<text class="ty" x="42.00" y="237.05" text-anchor="end">7,500</text>
<text class="ty" x="42.00" y="251.15" text-anchor="end">5,000</text>
<text class="ty" x="42.00" y="265.05" text-anchor="end">2,500</text>
<text class="tk" x="53.00" y="282.20" text-anchor="middle">14.51</text>
<text class="tk" x="81.10" y="282.20" text-anchor="middle">14.55</text>
<text class="tk" x="115.30" y="282.20" text-anchor="middle">14.60</text>
<path d="M47.00,273.11 L47.54,273.10 L48.08,273.09 L48.62,273.08 L49.16,273.07 L49.70,273.05 L50.24,273.04 L50.79,273.02 L51.33,273.00 L51.87,272.98 L52.41,272.95 L52.95,272.92 L53.49,272.89 L54.03,272.85 L54.57,272.81 L55.11,272.77 L55.65,272.72 L56.19,272.67 L56.73,272.61 L57.28,272.54 L57.82,272.47 L58.36,272.40 L58.90,272.32 L59.44,272.23 L59.98,272.13 L60.52,272.03 L61.06,271.92 L61.60,271.81 L62.14,271.69 L62.68,271.56 L63.23,271.43 L63.77,271.29 L64.31,271.14 L64.85,271.00 L65.39,270.84 L65.93,270.68 L66.47,270.52 L67.01,270.36 L67.55,270.19 L68.09,270.02 L68.63,269.86 L69.17,269.69 L69.72,269.53 L70.26,269.37 L70.80,269.22 L71.34,269.07 L71.88,268.92 L72.42,268.79 L72.96,268.66 L73.50,268.54 L74.04,268.44 L74.58,268.34 L75.12,268.26 L75.66,268.19 L76.20,268.13 L76.75,268.09 L77.29,268.06 L77.83,268.05 L78.37,268.05 L78.91,268.07 L79.45,268.10 L79.99,268.14 L80.53,268.19 L81.07,268.26 L81.61,268.33 L82.15,268.42 L82.70,268.52 L83.24,268.63 L83.78,268.75 L84.32,268.88 L84.86,269.01 L85.40,269.15 L85.94,269.29 L86.48,269.44 L87.02,269.60 L87.56,269.75 L88.10,269.91 L88.64,270.06 L89.19,270.22 L89.73,270.38 L90.27,270.53 L90.81,270.68 L91.35,270.83 L91.89,270.97 L92.43,271.11 L92.97,271.25 L93.51,271.38 L94.05,271.51 L94.59,271.63 L95.13,271.74 L95.68,271.85 L96.22,271.95 L96.76,272.05 L97.30,272.14 L97.84,272.22 L98.38,272.30 L98.92,272.38 L99.46,272.44 L100.00,272.51 L100.54,272.56 L101.08,272.62 L101.62,272.66 L102.16,272.71 L102.71,272.75 L103.25,272.78 L103.79,272.81 L104.33,272.84 L104.87,272.87 L105.41,272.89 L105.95,272.91 L106.49,272.93 L107.03,272.95 L107.57,272.96 L108.11,272.97 L108.66,272.98 L109.20,272.99 L109.74,273.00 L110.28,273.01 L110.82,273.01 L111.36,273.02 L111.90,273.02" fill="none" stroke="#f64a43" stroke-width="1.35" stroke-linejoin="round"/>
<path d="M48.30,266.74 L48.83,266.44 L49.36,266.11 L49.89,265.76 L50.42,265.39 L50.95,264.99 L51.48,264.57 L52.01,264.13 L52.54,263.66 L53.07,263.16 L53.60,262.63 L54.13,262.07 L54.66,261.48 L55.19,260.87 L55.72,260.22 L56.25,259.54 L56.78,258.84 L57.31,258.10 L57.84,257.33 L58.37,256.53 L58.90,255.70 L59.43,254.84 L59.96,253.96 L60.49,253.05 L61.02,252.11 L61.55,251.15 L62.08,250.16 L62.61,249.16 L63.14,248.13 L63.67,247.10 L64.20,246.04 L64.73,244.98 L65.26,243.91 L65.79,242.83 L66.32,241.75 L66.85,240.68 L67.38,239.60 L67.91,238.54 L68.44,237.49 L68.97,236.45 L69.50,235.44 L70.03,234.44 L70.56,233.48 L71.09,232.54 L71.62,231.64 L72.15,230.78 L72.68,229.95 L73.21,229.18 L73.74,228.45 L74.27,227.77 L74.80,227.15 L75.33,226.58 L75.86,226.08 L76.39,225.63 L76.92,225.25 L77.45,224.93 L77.98,224.69 L78.51,224.50 L79.04,224.39 L79.57,224.34 L80.10,224.39 L80.63,224.53 L81.16,224.77 L81.69,225.10 L82.22,225.52 L82.75,226.03 L83.28,226.62 L83.81,227.30 L84.34,228.05 L84.87,228.87 L85.40,229.75 L85.93,230.70 L86.46,231.70 L86.99,232.74 L87.52,233.83 L88.05,234.96 L88.58,236.11 L89.11,237.29 L89.64,238.48 L90.17,239.68 L90.70,240.89 L91.23,242.10 L91.76,243.29 L92.29,244.48 L92.82,245.66 L93.35,246.81 L93.88,247.93 L94.41,249.03 L94.94,250.10 L95.47,251.13 L96.00,252.13 L96.53,253.09 L97.06,254.01 L97.59,254.88 L98.12,255.72 L98.65,256.51 L99.18,257.26 L99.71,257.96 L100.24,258.62 L100.77,259.24 L101.30,259.82 L101.83,260.36 L102.36,260.85 L102.89,261.30 L103.42,261.71 L103.95,262.08 L104.48,262.40 L105.01,262.67 L105.54,262.90 L106.07,263.08 L106.60,263.20 L107.13,263.27 L107.66,263.29 L108.19,263.26 L108.72,263.20 L109.25,263.12 L109.78,263.03 L110.31,262.95 L110.84,262.90 L111.37,262.88 L111.90,262.91" fill="none" stroke="#12b7c2" stroke-width="1.55" stroke-dasharray="2.1 2.35" stroke-linejoin="round"/>
</g>
<g>
<rect x="156.66" y="213.95" width="73.20" height="7.45" fill="#d9d9d9" stroke="#8a8a8a" stroke-width="0.5"/>
<text class="st" x="193.26" y="219.70" text-anchor="middle">carvone (82)</text>
<path d="M156.66,221.40 V275.50 H229.86" fill="none" stroke="#606060" stroke-width="0.65"/>
<path d="M155.16,231.55 H156.66 M155.16,246.75 H156.66 M155.16,261.75 H156.66 M165.20,275.50 v1.3 M196.40,275.50 v1.3 M227.70,275.50 v1.3 " fill="none" stroke="#555" stroke-width="0.55"/>
<text class="ty" x="155.16" y="234.15" text-anchor="end">6,000</text>
<text class="ty" x="155.16" y="249.35" text-anchor="end">4,000</text>
<text class="ty" x="155.16" y="264.35" text-anchor="end">2,000</text>
<text class="tk" x="165.20" y="282.20" text-anchor="middle">16.78</text>
<text class="tk" x="196.40" y="282.20" text-anchor="middle">16.84</text>
<text class="tk" x="227.70" y="282.20" text-anchor="middle">16.90</text>
<path d="M161.50,271.85 L162.03,271.86 L162.57,271.86 L163.10,271.87 L163.64,271.87 L164.17,271.88 L164.71,271.89 L165.24,271.90 L165.77,271.91 L166.31,271.93 L166.84,271.95 L167.38,271.97 L167.91,271.99 L168.44,272.02 L168.98,272.06 L169.51,272.10 L170.05,272.14 L170.58,272.18 L171.12,272.22 L171.65,272.27 L172.18,272.31 L172.72,272.34 L173.25,272.38 L173.79,272.40 L174.32,272.42 L174.85,272.43 L175.39,272.43 L175.92,272.43 L176.46,272.41 L176.99,272.39 L177.53,272.36 L178.06,272.33 L178.59,272.29 L179.13,272.25 L179.66,272.22 L180.20,272.18 L180.73,272.14 L181.26,272.11 L181.80,272.08 L182.33,272.06 L182.87,272.03 L183.40,272.01 L183.94,271.98 L184.47,271.96 L185.00,271.93 L185.54,271.90 L186.07,271.86 L186.61,271.81 L187.14,271.76 L187.67,271.70 L188.21,271.63 L188.74,271.56 L189.28,271.47 L189.81,271.39 L190.34,271.30 L190.88,271.22 L191.41,271.14 L191.95,271.07 L192.48,271.02 L193.02,270.98 L193.55,270.95 L194.08,270.95 L194.62,270.97 L195.15,271.00 L195.69,271.05 L196.22,271.12 L196.75,271.20 L197.29,271.28 L197.82,271.37 L198.36,271.46 L198.89,271.55 L199.43,271.63 L199.96,271.70 L200.49,271.77 L201.03,271.83 L201.56,271.87 L202.10,271.90 L202.63,271.93 L203.16,271.95 L203.70,271.95 L204.23,271.96 L204.77,271.95 L205.30,271.94 L205.84,271.93 L206.37,271.91 L206.90,271.89 L207.44,271.87 L207.97,271.85 L208.51,271.83 L209.04,271.81 L209.57,271.79 L210.11,271.78 L210.64,271.77 L211.18,271.77 L211.71,271.76 L212.25,271.77 L212.78,271.77 L213.31,271.79 L213.85,271.80 L214.38,271.82 L214.92,271.85 L215.45,271.87 L215.99,271.90 L216.52,271.93 L217.05,271.96 L217.59,271.99 L218.12,272.01 L218.66,272.04 L219.19,272.07 L219.72,272.09 L220.26,272.11 L220.79,272.13 L221.33,272.15 L221.86,272.17 L222.39,272.18 L222.93,272.20 L223.46,272.21 L224.00,272.22 L224.53,272.23 L225.07,272.23 L225.60,272.24" fill="none" stroke="#f64a43" stroke-width="1.35" stroke-linejoin="round"/>
<path d="M161.20,269.35 L161.74,269.39 L162.28,269.56 L162.82,269.82 L163.37,270.11 L163.91,270.38 L164.45,270.58 L164.99,270.70 L165.53,270.74 L166.07,270.71 L166.62,270.62 L167.16,270.49 L167.70,270.31 L168.24,270.11 L168.78,269.87 L169.32,269.61 L169.87,269.31 L170.41,268.98 L170.95,268.61 L171.49,268.21 L172.03,267.76 L172.57,267.26 L173.12,266.72 L173.66,266.13 L174.20,265.49 L174.74,264.80 L175.28,264.04 L175.82,263.23 L176.37,262.37 L176.91,261.44 L177.45,260.45 L177.99,259.40 L178.53,258.29 L179.07,257.12 L179.62,255.90 L180.16,254.62 L180.70,253.29 L181.24,251.92 L181.78,250.50 L182.32,249.05 L182.87,247.56 L183.41,246.05 L183.95,244.53 L184.49,242.99 L185.03,241.46 L185.57,239.93 L186.12,238.42 L186.66,236.94 L187.20,235.50 L187.74,234.11 L188.28,232.77 L188.82,231.51 L189.37,230.32 L189.91,229.21 L190.45,228.20 L190.99,227.30 L191.53,226.50 L192.07,225.82 L192.62,225.27 L193.16,224.84 L193.70,224.55 L194.24,224.38 L194.78,224.36 L195.32,224.46 L195.87,224.70 L196.41,225.06 L196.95,225.56 L197.49,226.17 L198.03,226.90 L198.57,227.75 L199.12,228.69 L199.66,229.74 L200.20,230.87 L200.74,232.08 L201.28,233.37 L201.82,234.71 L202.37,236.10 L202.91,237.54 L203.45,239.01 L203.99,240.50 L204.53,242.01 L205.07,243.52 L205.62,245.02 L206.16,246.51 L206.70,247.98 L207.24,249.43 L207.78,250.84 L208.32,252.22 L208.87,253.55 L209.41,254.83 L209.95,256.07 L210.49,257.24 L211.03,258.37 L211.57,259.43 L212.12,260.44 L212.66,261.38 L213.20,262.27 L213.74,263.10 L214.28,263.87 L214.82,264.58 L215.37,265.24 L215.91,265.85 L216.45,266.41 L216.99,266.91 L217.53,267.37 L218.07,267.78 L218.62,268.15 L219.16,268.47 L219.70,268.75 L220.24,268.98 L220.78,269.17 L221.32,269.32 L221.87,269.42 L222.41,269.50 L222.95,269.54 L223.49,269.56 L224.03,269.57 L224.57,269.58 L225.12,269.59 L225.66,269.62 L226.20,269.66" fill="none" stroke="#12b7c2" stroke-width="1.55" stroke-dasharray="2.1 2.35" stroke-linejoin="round"/>
</g>
<text class="ti" x="285.6" y="290.8" text-anchor="middle">Retention time, mins</text>
<text class="ti" transform="translate(5.3,142.8) rotate(-90)" text-anchor="middle">Ion count</text>
</svg>
</body></html>
